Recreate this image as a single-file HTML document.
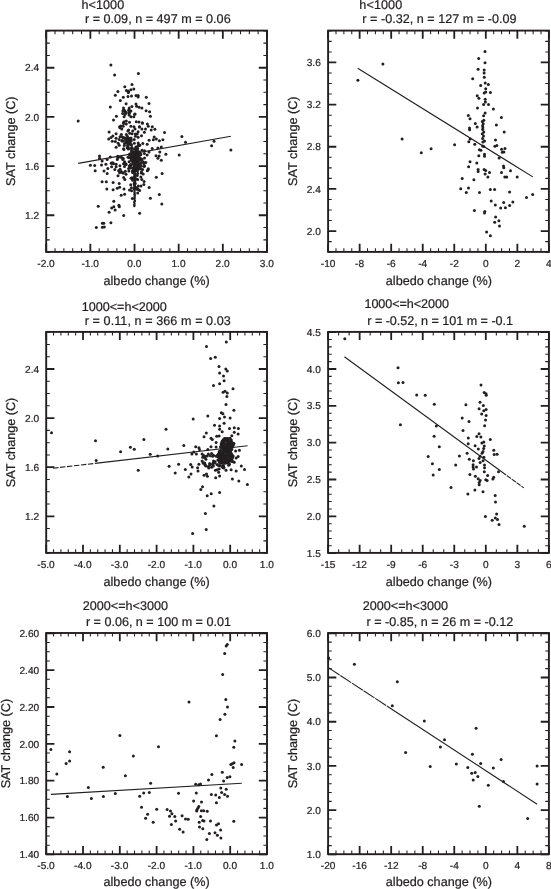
<!DOCTYPE html>
<html lang="en">
<head>
<meta charset="utf-8">
<title>SAT change vs albedo change</title>
<style>html,body{margin:0;padding:0;background:#fff}svg{display:block}text{stroke:#231f20;stroke-width:.22px}</style>
</head>
<body>
<svg width="551" height="889" viewBox="0 0 551 889" font-family="'Liberation Sans', Arial, Helvetica, sans-serif" text-rendering="geometricPrecision">
<rect width="551" height="889" fill="#ffffff"/>
<g>
<path d="M55.03 251.90v-3.60M55.03 30.60v3.60M63.86 251.90v-3.60M63.86 30.60v3.60M72.70 251.90v-3.60M72.70 30.60v3.60M81.53 251.90v-3.60M81.53 30.60v3.60M99.19 251.90v-3.60M99.19 30.60v3.60M108.02 251.90v-3.60M108.02 30.60v3.60M116.86 251.90v-3.60M116.86 30.60v3.60M125.69 251.90v-3.60M125.69 30.60v3.60M143.35 251.90v-3.60M143.35 30.60v3.60M152.18 251.90v-3.60M152.18 30.60v3.60M161.02 251.90v-3.60M161.02 30.60v3.60M169.85 251.90v-3.60M169.85 30.60v3.60M187.51 251.90v-3.60M187.51 30.60v3.60M196.34 251.90v-3.60M196.34 30.60v3.60M205.18 251.90v-3.60M205.18 30.60v3.60M214.01 251.90v-3.60M214.01 30.60v3.60M231.67 251.90v-3.60M231.67 30.60v3.60M240.50 251.90v-3.60M240.50 30.60v3.60M249.34 251.90v-3.60M249.34 30.60v3.60M258.17 251.90v-3.60M258.17 30.60v3.60M46.20 252.15h3.60M267.00 252.15h-3.60M46.20 239.86h3.60M267.00 239.86h-3.60M46.20 227.56h3.60M267.00 227.56h-3.60M46.20 202.97h3.60M267.00 202.97h-3.60M46.20 190.68h3.60M267.00 190.68h-3.60M46.20 178.38h3.60M267.00 178.38h-3.60M46.20 153.79h3.60M267.00 153.79h-3.60M46.20 141.50h3.60M267.00 141.50h-3.60M46.20 129.21h3.60M267.00 129.21h-3.60M46.20 104.62h3.60M267.00 104.62h-3.60M46.20 92.32h3.60M267.00 92.32h-3.60M46.20 80.03h3.60M267.00 80.03h-3.60M46.20 55.44h3.60M267.00 55.44h-3.60M46.20 43.14h3.60M267.00 43.14h-3.60M46.20 30.85h3.60M267.00 30.85h-3.60" stroke="#231f20" stroke-width="1.05" fill="none"/>
<path d="M46.20 251.90v-8.20M46.20 30.60v8.20M90.36 251.90v-8.20M90.36 30.60v8.20M134.52 251.90v-8.20M134.52 30.60v8.20M178.68 251.90v-8.20M178.68 30.60v8.20M222.84 251.90v-8.20M222.84 30.60v8.20M267.00 251.90v-8.20M267.00 30.60v8.20M46.20 215.27h8.20M267.00 215.27h-8.20M46.20 166.09h8.20M267.00 166.09h-8.20M46.20 116.91h8.20M267.00 116.91h-8.20M46.20 67.73h8.20M267.00 67.73h-8.20" stroke="#231f20" stroke-width="1.80" fill="none"/>
<line x1="78.2" y1="163.4" x2="230.9" y2="136.2" stroke="#231f20" stroke-width="1.10"/>
<g fill="#231f20"><circle cx="110.9" cy="64.9" r="1.50"/><circle cx="114.6" cy="75.0" r="1.50"/><circle cx="124.8" cy="86.8" r="1.50"/><circle cx="117.9" cy="91.5" r="1.50"/><circle cx="126.4" cy="90.5" r="1.50"/><circle cx="128.6" cy="92.0" r="1.50"/><circle cx="115.3" cy="95.2" r="1.50"/><circle cx="123.3" cy="97.3" r="1.50"/><circle cx="128.0" cy="96.5" r="1.50"/><circle cx="120.3" cy="100.4" r="1.50"/><circle cx="126.1" cy="103.7" r="1.50"/><circle cx="110.3" cy="107.0" r="1.50"/><circle cx="123.5" cy="107.9" r="1.50"/><circle cx="129.2" cy="107.9" r="1.50"/><circle cx="122.9" cy="111.1" r="1.50"/><circle cx="126.1" cy="113.0" r="1.50"/><circle cx="138.4" cy="73.6" r="1.50"/><circle cx="132.0" cy="84.4" r="1.50"/><circle cx="133.8" cy="89.1" r="1.50"/><circle cx="130.9" cy="89.8" r="1.50"/><circle cx="128.3" cy="91.0" r="1.50"/><circle cx="128.3" cy="92.6" r="1.50"/><circle cx="131.5" cy="96.1" r="1.50"/><circle cx="136.0" cy="95.6" r="1.50"/><circle cx="138.1" cy="95.6" r="1.50"/><circle cx="138.1" cy="97.1" r="1.50"/><circle cx="146.3" cy="97.2" r="1.50"/><circle cx="149.0" cy="103.4" r="1.50"/><circle cx="136.0" cy="104.1" r="1.50"/><circle cx="136.6" cy="106.2" r="1.50"/><circle cx="139.1" cy="107.3" r="1.50"/><circle cx="141.9" cy="107.9" r="1.50"/><circle cx="131.9" cy="106.6" r="1.50"/><circle cx="146.1" cy="110.8" r="1.50"/><circle cx="149.6" cy="111.7" r="1.50"/><circle cx="124.5" cy="110.4" r="1.50"/><circle cx="125.8" cy="112.3" r="1.50"/><circle cx="129.0" cy="109.8" r="1.50"/><circle cx="130.9" cy="111.1" r="1.50"/><circle cx="129.0" cy="113.0" r="1.50"/><circle cx="134.7" cy="114.2" r="1.50"/><circle cx="150.4" cy="116.3" r="1.50"/><circle cx="142.5" cy="123.3" r="1.50"/><circle cx="147.4" cy="123.9" r="1.50"/><circle cx="148.3" cy="126.2" r="1.50"/><circle cx="152.3" cy="126.8" r="1.50"/><circle cx="141.9" cy="129.0" r="1.50"/><circle cx="145.5" cy="129.0" r="1.50"/><circle cx="151.2" cy="130.0" r="1.50"/><circle cx="154.9" cy="129.3" r="1.50"/><circle cx="144.4" cy="132.2" r="1.50"/><circle cx="164.5" cy="132.6" r="1.50"/><circle cx="141.5" cy="135.7" r="1.50"/><circle cx="181.9" cy="136.5" r="1.50"/><circle cx="154.2" cy="137.0" r="1.50"/><circle cx="149.1" cy="140.2" r="1.50"/><circle cx="153.3" cy="139.8" r="1.50"/><circle cx="156.3" cy="138.9" r="1.50"/><circle cx="159.4" cy="140.7" r="1.50"/><circle cx="162.9" cy="139.8" r="1.50"/><circle cx="185.5" cy="142.3" r="1.50"/><circle cx="142.8" cy="143.6" r="1.50"/><circle cx="147.2" cy="144.2" r="1.50"/><circle cx="214.0" cy="141.2" r="1.50"/><circle cx="211.6" cy="145.7" r="1.50"/><circle cx="230.9" cy="150.1" r="1.50"/><circle cx="109.1" cy="131.9" r="1.50"/><circle cx="116.1" cy="133.8" r="1.50"/><circle cx="112.9" cy="136.1" r="1.50"/><circle cx="111.0" cy="137.6" r="1.50"/><circle cx="108.7" cy="139.1" r="1.50"/><circle cx="116.1" cy="138.3" r="1.50"/><circle cx="112.3" cy="141.2" r="1.50"/><circle cx="115.4" cy="141.4" r="1.50"/><circle cx="119.2" cy="139.5" r="1.50"/><circle cx="119.2" cy="145.2" r="1.50"/><circle cx="116.1" cy="147.2" r="1.50"/><circle cx="99.5" cy="156.0" r="1.50"/><circle cx="99.5" cy="158.2" r="1.50"/><circle cx="110.3" cy="157.1" r="1.50"/><circle cx="107.2" cy="159.5" r="1.50"/><circle cx="102.1" cy="160.9" r="1.50"/><circle cx="117.3" cy="159.5" r="1.50"/><circle cx="90.4" cy="165.3" r="1.50"/><circle cx="94.7" cy="165.6" r="1.50"/><circle cx="101.5" cy="164.9" r="1.50"/><circle cx="105.9" cy="164.3" r="1.50"/><circle cx="113.5" cy="163.7" r="1.50"/><circle cx="116.1" cy="164.3" r="1.50"/><circle cx="111.6" cy="166.8" r="1.50"/><circle cx="116.1" cy="166.8" r="1.50"/><circle cx="107.8" cy="168.5" r="1.50"/><circle cx="114.8" cy="169.6" r="1.50"/><circle cx="95.2" cy="170.7" r="1.50"/><circle cx="104.0" cy="170.9" r="1.50"/><circle cx="107.2" cy="173.5" r="1.50"/><circle cx="118.6" cy="170.7" r="1.50"/><circle cx="118.0" cy="175.7" r="1.50"/><circle cx="102.1" cy="181.8" r="1.50"/><circle cx="106.3" cy="181.8" r="1.50"/><circle cx="113.1" cy="182.5" r="1.50"/><circle cx="119.2" cy="183.4" r="1.50"/><circle cx="106.8" cy="189.1" r="1.50"/><circle cx="113.1" cy="189.7" r="1.50"/><circle cx="117.3" cy="188.2" r="1.50"/><circle cx="119.6" cy="187.2" r="1.50"/><circle cx="124.0" cy="188.9" r="1.50"/><circle cx="121.2" cy="195.2" r="1.50"/><circle cx="124.6" cy="194.2" r="1.50"/><circle cx="113.8" cy="201.3" r="1.50"/><circle cx="98.2" cy="206.2" r="1.50"/><circle cx="118.9" cy="205.2" r="1.50"/><circle cx="119.3" cy="206.7" r="1.50"/><circle cx="113.8" cy="206.7" r="1.50"/><circle cx="111.7" cy="207.9" r="1.50"/><circle cx="115.1" cy="209.9" r="1.50"/><circle cx="109.1" cy="212.3" r="1.50"/><circle cx="123.7" cy="215.6" r="1.50"/><circle cx="110.9" cy="222.8" r="1.50"/><circle cx="102.4" cy="223.2" r="1.50"/><circle cx="103.7" cy="223.2" r="1.50"/><circle cx="96.3" cy="227.6" r="1.50"/><circle cx="102.4" cy="227.3" r="1.50"/><circle cx="104.3" cy="227.0" r="1.50"/><circle cx="132.3" cy="198.4" r="1.50"/><circle cx="139.6" cy="213.3" r="1.50"/><circle cx="162.1" cy="173.5" r="1.50"/><circle cx="156.3" cy="177.3" r="1.50"/><circle cx="148.1" cy="169.8" r="1.50"/><circle cx="143.2" cy="173.9" r="1.50"/><circle cx="140.9" cy="177.1" r="1.50"/><circle cx="144.1" cy="181.5" r="1.50"/><circle cx="149.1" cy="187.6" r="1.50"/><circle cx="139.6" cy="190.4" r="1.50"/><circle cx="137.7" cy="193.0" r="1.50"/><circle cx="159.3" cy="194.5" r="1.50"/><circle cx="150.4" cy="198.3" r="1.50"/><circle cx="161.8" cy="203.9" r="1.50"/><circle cx="130.7" cy="184.7" r="1.50"/><circle cx="135.2" cy="183.4" r="1.50"/><circle cx="132.0" cy="177.7" r="1.50"/><circle cx="132.6" cy="180.2" r="1.50"/><circle cx="137.7" cy="179.6" r="1.50"/><circle cx="135.8" cy="187.6" r="1.50"/><circle cx="139.4" cy="126.9" r="1.50"/><circle cx="139.8" cy="145.3" r="1.50"/><circle cx="161.3" cy="146.9" r="1.50"/><circle cx="157.9" cy="147.9" r="1.50"/><circle cx="152.2" cy="148.5" r="1.50"/><circle cx="149.0" cy="152.1" r="1.50"/><circle cx="144.5" cy="150.8" r="1.50"/><circle cx="159.8" cy="152.1" r="1.50"/><circle cx="165.9" cy="154.2" r="1.50"/><circle cx="179.2" cy="154.9" r="1.50"/><circle cx="147.1" cy="155.1" r="1.50"/><circle cx="156.0" cy="155.7" r="1.50"/><circle cx="159.1" cy="155.9" r="1.50"/><circle cx="157.9" cy="158.3" r="1.50"/><circle cx="161.3" cy="160.3" r="1.50"/><circle cx="144.5" cy="158.0" r="1.50"/><circle cx="145.8" cy="162.5" r="1.50"/><circle cx="144.5" cy="165.7" r="1.50"/><circle cx="148.3" cy="168.8" r="1.50"/><circle cx="147.3" cy="170.7" r="1.50"/><circle cx="78.2" cy="121.0" r="1.50"/><circle cx="116.4" cy="116.3" r="1.50"/><circle cx="113.5" cy="120.1" r="1.50"/><circle cx="119.6" cy="126.8" r="1.50"/><circle cx="123.6" cy="110.0" r="1.50"/><circle cx="125.0" cy="111.3" r="1.50"/><circle cx="128.6" cy="110.4" r="1.50"/><circle cx="129.5" cy="112.7" r="1.50"/><circle cx="122.7" cy="113.6" r="1.50"/><circle cx="125.0" cy="114.5" r="1.50"/><circle cx="135.0" cy="114.1" r="1.50"/><circle cx="129.1" cy="115.0" r="1.50"/><circle cx="124.1" cy="116.8" r="1.50"/><circle cx="130.9" cy="116.8" r="1.50"/><circle cx="133.8" cy="116.8" r="1.50"/><circle cx="126.3" cy="120.9" r="1.50"/><circle cx="124.1" cy="121.8" r="1.50"/><circle cx="129.5" cy="122.2" r="1.50"/><circle cx="136.3" cy="121.8" r="1.50"/><circle cx="139.0" cy="122.1" r="1.50"/><circle cx="142.2" cy="122.7" r="1.50"/><circle cx="123.6" cy="123.6" r="1.50"/><circle cx="126.3" cy="124.0" r="1.50"/><circle cx="120.9" cy="125.9" r="1.50"/><circle cx="123.2" cy="126.3" r="1.50"/><circle cx="130.9" cy="126.3" r="1.50"/><circle cx="134.0" cy="126.8" r="1.50"/><circle cx="139.5" cy="126.8" r="1.50"/><circle cx="120.0" cy="127.7" r="1.50"/><circle cx="121.8" cy="129.0" r="1.50"/><circle cx="135.0" cy="129.0" r="1.50"/><circle cx="128.6" cy="129.9" r="1.50"/><circle cx="132.7" cy="130.9" r="1.50"/><circle cx="138.1" cy="131.8" r="1.50"/><circle cx="121.3" cy="134.5" r="1.50"/><circle cx="126.3" cy="134.5" r="1.50"/><circle cx="137.2" cy="134.0" r="1.50"/><circle cx="120.0" cy="136.8" r="1.50"/><circle cx="135.4" cy="136.3" r="1.50"/><circle cx="138.1" cy="137.2" r="1.50"/><circle cx="130.8" cy="144.5" r="1.50"/><circle cx="123.3" cy="137.7" r="1.50"/><circle cx="125.2" cy="137.9" r="1.50"/><circle cx="130.4" cy="144.3" r="1.50"/><circle cx="129.8" cy="142.9" r="1.50"/><circle cx="122.3" cy="137.1" r="1.50"/><circle cx="123.9" cy="149.5" r="1.50"/><circle cx="127.5" cy="136.5" r="1.50"/><circle cx="128.6" cy="140.5" r="1.50"/><circle cx="134.1" cy="152.5" r="1.50"/><circle cx="128.3" cy="149.0" r="1.50"/><circle cx="127.9" cy="138.5" r="1.50"/><circle cx="128.9" cy="148.6" r="1.50"/><circle cx="128.1" cy="146.9" r="1.50"/><circle cx="131.5" cy="148.3" r="1.50"/><circle cx="124.3" cy="145.5" r="1.50"/><circle cx="129.7" cy="154.1" r="1.50"/><circle cx="122.1" cy="140.5" r="1.50"/><circle cx="125.9" cy="139.5" r="1.50"/><circle cx="131.5" cy="145.1" r="1.50"/><circle cx="131.1" cy="153.8" r="1.50"/><circle cx="127.6" cy="145.4" r="1.50"/><circle cx="135.8" cy="149.7" r="1.50"/><circle cx="135.5" cy="148.8" r="1.50"/><circle cx="136.6" cy="147.2" r="1.50"/><circle cx="124.6" cy="143.5" r="1.50"/><circle cx="123.9" cy="137.7" r="1.50"/><circle cx="131.3" cy="140.1" r="1.50"/><circle cx="126.6" cy="141.1" r="1.50"/><circle cx="135.8" cy="152.0" r="1.50"/><circle cx="134.3" cy="143.3" r="1.50"/><circle cx="132.3" cy="152.9" r="1.50"/><circle cx="134.2" cy="139.4" r="1.50"/><circle cx="127.8" cy="140.7" r="1.50"/><circle cx="123.5" cy="141.0" r="1.50"/><circle cx="130.9" cy="141.3" r="1.50"/><circle cx="121.9" cy="140.9" r="1.50"/><circle cx="127.2" cy="147.8" r="1.50"/><circle cx="137.3" cy="149.2" r="1.50"/><circle cx="135.9" cy="146.9" r="1.50"/><circle cx="127.7" cy="143.8" r="1.50"/><circle cx="131.9" cy="147.4" r="1.50"/><circle cx="128.7" cy="141.9" r="1.50"/><circle cx="127.7" cy="137.8" r="1.50"/><circle cx="125.9" cy="139.0" r="1.50"/><circle cx="131.6" cy="150.2" r="1.50"/><circle cx="126.0" cy="142.6" r="1.50"/><circle cx="132.1" cy="133.8" r="1.50"/><circle cx="132.8" cy="161.4" r="1.50"/><circle cx="137.4" cy="161.3" r="1.50"/><circle cx="134.9" cy="163.7" r="1.50"/><circle cx="137.0" cy="157.1" r="1.50"/><circle cx="143.5" cy="162.0" r="1.50"/><circle cx="134.5" cy="159.4" r="1.50"/><circle cx="135.5" cy="159.6" r="1.50"/><circle cx="128.0" cy="157.3" r="1.50"/><circle cx="139.2" cy="153.5" r="1.50"/><circle cx="136.0" cy="165.3" r="1.50"/><circle cx="138.8" cy="168.3" r="1.50"/><circle cx="131.1" cy="158.0" r="1.50"/><circle cx="135.2" cy="163.5" r="1.50"/><circle cx="139.5" cy="145.0" r="1.50"/><circle cx="139.5" cy="151.9" r="1.50"/><circle cx="138.2" cy="151.6" r="1.50"/><circle cx="136.7" cy="166.7" r="1.50"/><circle cx="135.8" cy="161.1" r="1.50"/><circle cx="138.6" cy="160.8" r="1.50"/><circle cx="135.9" cy="168.6" r="1.50"/><circle cx="139.3" cy="158.4" r="1.50"/><circle cx="144.4" cy="153.6" r="1.50"/><circle cx="138.9" cy="158.5" r="1.50"/><circle cx="136.6" cy="163.9" r="1.50"/><circle cx="136.9" cy="163.6" r="1.50"/><circle cx="131.6" cy="151.5" r="1.50"/><circle cx="138.0" cy="154.6" r="1.50"/><circle cx="133.1" cy="151.8" r="1.50"/><circle cx="140.0" cy="164.2" r="1.50"/><circle cx="140.6" cy="154.7" r="1.50"/><circle cx="136.2" cy="153.6" r="1.50"/><circle cx="138.5" cy="168.9" r="1.50"/><circle cx="133.5" cy="168.7" r="1.50"/><circle cx="139.2" cy="159.0" r="1.50"/><circle cx="130.3" cy="167.9" r="1.50"/><circle cx="135.9" cy="156.6" r="1.50"/><circle cx="137.4" cy="162.3" r="1.50"/><circle cx="140.7" cy="154.3" r="1.50"/><circle cx="139.6" cy="168.3" r="1.50"/><circle cx="140.6" cy="159.0" r="1.50"/><circle cx="134.0" cy="165.7" r="1.50"/><circle cx="136.5" cy="160.7" r="1.50"/><circle cx="140.5" cy="158.5" r="1.50"/><circle cx="129.3" cy="157.8" r="1.50"/><circle cx="130.6" cy="164.6" r="1.50"/><circle cx="137.2" cy="156.6" r="1.50"/><circle cx="136.2" cy="164.7" r="1.50"/><circle cx="136.4" cy="167.4" r="1.50"/><circle cx="136.0" cy="165.8" r="1.50"/><circle cx="140.7" cy="169.0" r="1.50"/><circle cx="134.2" cy="164.9" r="1.50"/><circle cx="130.6" cy="153.9" r="1.50"/><circle cx="130.3" cy="166.0" r="1.50"/><circle cx="132.5" cy="159.9" r="1.50"/><circle cx="135.6" cy="159.8" r="1.50"/><circle cx="134.4" cy="161.3" r="1.50"/><circle cx="141.6" cy="160.2" r="1.50"/><circle cx="137.8" cy="165.6" r="1.50"/><circle cx="135.6" cy="152.9" r="1.50"/><circle cx="134.5" cy="166.0" r="1.50"/><circle cx="131.3" cy="156.7" r="1.50"/><circle cx="139.2" cy="164.4" r="1.50"/><circle cx="136.2" cy="164.5" r="1.50"/><circle cx="136.7" cy="153.4" r="1.50"/><circle cx="131.5" cy="156.4" r="1.50"/><circle cx="139.0" cy="156.8" r="1.50"/><circle cx="133.5" cy="155.7" r="1.50"/><circle cx="131.6" cy="159.3" r="1.50"/><circle cx="132.7" cy="162.0" r="1.50"/><circle cx="129.1" cy="161.8" r="1.50"/><circle cx="134.3" cy="149.1" r="1.50"/><circle cx="138.4" cy="158.5" r="1.50"/><circle cx="129.5" cy="155.1" r="1.50"/><circle cx="137.1" cy="157.4" r="1.50"/><circle cx="138.5" cy="164.2" r="1.50"/><circle cx="138.2" cy="161.8" r="1.50"/><circle cx="140.2" cy="163.7" r="1.50"/><circle cx="137.6" cy="148.3" r="1.50"/><circle cx="138.9" cy="167.3" r="1.50"/><circle cx="135.3" cy="157.4" r="1.50"/><circle cx="142.0" cy="150.2" r="1.50"/><circle cx="137.6" cy="173.6" r="1.50"/><circle cx="133.4" cy="163.9" r="1.50"/><circle cx="141.9" cy="159.3" r="1.50"/><circle cx="137.9" cy="165.1" r="1.50"/><circle cx="133.5" cy="159.5" r="1.50"/><circle cx="137.1" cy="164.6" r="1.50"/><circle cx="136.1" cy="158.9" r="1.50"/><circle cx="133.2" cy="158.0" r="1.50"/><circle cx="138.9" cy="160.6" r="1.50"/><circle cx="133.6" cy="155.3" r="1.50"/><circle cx="144.2" cy="166.4" r="1.50"/><circle cx="138.1" cy="145.5" r="1.50"/><circle cx="138.1" cy="162.7" r="1.50"/><circle cx="141.3" cy="162.4" r="1.50"/><circle cx="134.9" cy="159.3" r="1.50"/><circle cx="134.9" cy="187.5" r="1.50"/><circle cx="134.6" cy="182.9" r="1.50"/><circle cx="134.8" cy="187.8" r="1.50"/><circle cx="134.6" cy="171.3" r="1.50"/><circle cx="134.5" cy="153.0" r="1.50"/><circle cx="134.5" cy="176.6" r="1.50"/><circle cx="134.7" cy="188.8" r="1.50"/><circle cx="134.6" cy="174.1" r="1.50"/><circle cx="134.5" cy="184.7" r="1.50"/><circle cx="134.9" cy="153.2" r="1.50"/><circle cx="134.3" cy="161.8" r="1.50"/><circle cx="134.8" cy="170.5" r="1.50"/><circle cx="134.5" cy="154.8" r="1.50"/><circle cx="134.6" cy="169.4" r="1.50"/><circle cx="134.8" cy="155.7" r="1.50"/><circle cx="134.7" cy="152.8" r="1.50"/><circle cx="134.9" cy="160.5" r="1.50"/><circle cx="134.5" cy="180.0" r="1.50"/><circle cx="135.0" cy="156.2" r="1.50"/><circle cx="134.9" cy="162.1" r="1.50"/><circle cx="134.6" cy="152.2" r="1.50"/><circle cx="134.4" cy="178.7" r="1.50"/><circle cx="134.5" cy="167.2" r="1.50"/><circle cx="135.1" cy="188.6" r="1.50"/><circle cx="135.0" cy="165.4" r="1.50"/><circle cx="117.7" cy="157.8" r="1.50"/><circle cx="124.5" cy="166.6" r="1.50"/><circle cx="123.4" cy="122.8" r="1.50"/><circle cx="123.7" cy="177.5" r="1.50"/><circle cx="128.3" cy="139.2" r="1.50"/><circle cx="125.7" cy="163.8" r="1.50"/><circle cx="134.5" cy="159.3" r="1.50"/><circle cx="141.4" cy="166.2" r="1.50"/><circle cx="130.9" cy="164.8" r="1.50"/><circle cx="142.6" cy="169.6" r="1.50"/><circle cx="138.2" cy="142.9" r="1.50"/><circle cx="130.0" cy="166.5" r="1.50"/><circle cx="128.9" cy="170.9" r="1.50"/><circle cx="135.2" cy="168.8" r="1.50"/><circle cx="129.5" cy="190.1" r="1.50"/><circle cx="139.7" cy="154.2" r="1.50"/><circle cx="131.6" cy="190.7" r="1.50"/><circle cx="128.6" cy="168.4" r="1.50"/><circle cx="137.9" cy="157.1" r="1.50"/><circle cx="122.8" cy="159.4" r="1.50"/><circle cx="133.5" cy="171.7" r="1.50"/><circle cx="136.5" cy="157.3" r="1.50"/><circle cx="137.0" cy="164.0" r="1.50"/><circle cx="132.4" cy="157.7" r="1.50"/><circle cx="129.3" cy="165.9" r="1.50"/><circle cx="123.6" cy="148.8" r="1.50"/><circle cx="131.0" cy="138.0" r="1.50"/><circle cx="127.9" cy="130.9" r="1.50"/><circle cx="126.2" cy="164.4" r="1.50"/><circle cx="135.0" cy="156.3" r="1.50"/><circle cx="129.4" cy="138.6" r="1.50"/><circle cx="143.8" cy="163.7" r="1.50"/><circle cx="138.7" cy="145.5" r="1.50"/><circle cx="129.7" cy="133.3" r="1.50"/><circle cx="136.5" cy="169.2" r="1.50"/><circle cx="117.7" cy="156.3" r="1.50"/><circle cx="135.4" cy="134.1" r="1.50"/><circle cx="118.2" cy="143.2" r="1.50"/><circle cx="126.6" cy="138.8" r="1.50"/><circle cx="131.2" cy="160.2" r="1.50"/><circle cx="135.4" cy="166.1" r="1.50"/><circle cx="141.5" cy="172.1" r="1.50"/><circle cx="121.2" cy="171.4" r="1.50"/><circle cx="122.5" cy="172.7" r="1.50"/><circle cx="119.8" cy="157.1" r="1.50"/><circle cx="126.0" cy="174.2" r="1.50"/><circle cx="120.1" cy="169.3" r="1.50"/><circle cx="123.2" cy="158.5" r="1.50"/><circle cx="124.7" cy="162.8" r="1.50"/><circle cx="111.5" cy="163.1" r="1.50"/><circle cx="124.6" cy="161.7" r="1.50"/><circle cx="124.8" cy="179.4" r="1.50"/><circle cx="119.9" cy="165.8" r="1.50"/><circle cx="119.6" cy="172.7" r="1.50"/><circle cx="125.3" cy="171.2" r="1.50"/><circle cx="122.9" cy="158.8" r="1.50"/><circle cx="112.9" cy="162.8" r="1.50"/><circle cx="124.9" cy="164.0" r="1.50"/><circle cx="121.4" cy="157.3" r="1.50"/><circle cx="111.2" cy="163.2" r="1.50"/><circle cx="123.4" cy="172.9" r="1.50"/><circle cx="123.5" cy="163.7" r="1.50"/><circle cx="131.0" cy="178.3" r="1.50"/><circle cx="135.5" cy="170.6" r="1.50"/><circle cx="138.4" cy="189.5" r="1.50"/><circle cx="134.1" cy="188.6" r="1.50"/><circle cx="141.0" cy="186.0" r="1.50"/><circle cx="136.5" cy="189.3" r="1.50"/><circle cx="132.6" cy="172.6" r="1.50"/><circle cx="137.1" cy="188.8" r="1.50"/><circle cx="137.5" cy="171.1" r="1.50"/><circle cx="141.8" cy="179.5" r="1.50"/><circle cx="138.3" cy="186.0" r="1.50"/><circle cx="135.3" cy="179.2" r="1.50"/><circle cx="141.3" cy="173.1" r="1.50"/><circle cx="131.4" cy="187.7" r="1.50"/><circle cx="135.0" cy="168.1" r="1.50"/><circle cx="136.1" cy="178.8" r="1.50"/><circle cx="132.4" cy="171.1" r="1.50"/><circle cx="137.2" cy="175.6" r="1.50"/><circle cx="132.5" cy="168.0" r="1.50"/><circle cx="143.9" cy="184.5" r="1.50"/><circle cx="137.2" cy="188.4" r="1.50"/><circle cx="134.1" cy="183.7" r="1.50"/></g>
<g fill="#231f20"><circle cx="134.36" cy="206.1" r="1.22"/><circle cx="134.37" cy="204.8" r="1.26"/><circle cx="134.57" cy="203.5" r="1.06"/><circle cx="134.15" cy="202.2" r="1.15"/><circle cx="134.87" cy="200.9" r="1.25"/><circle cx="134.50" cy="199.6" r="1.07"/><circle cx="134.45" cy="198.3" r="1.17"/><circle cx="134.63" cy="197.0" r="1.18"/><circle cx="134.74" cy="195.7" r="1.11"/><circle cx="134.61" cy="194.4" r="1.25"/><circle cx="134.61" cy="193.1" r="1.23"/><circle cx="134.48" cy="191.8" r="1.08"/><circle cx="134.52" cy="190.5" r="1.05"/><circle cx="134.53" cy="189.2" r="1.24"/><circle cx="134.64" cy="187.9" r="1.27"/><circle cx="134.73" cy="186.6" r="1.24"/><circle cx="134.48" cy="185.3" r="1.17"/><circle cx="135.09" cy="184.0" r="1.20"/><circle cx="134.73" cy="182.7" r="1.20"/><circle cx="135.06" cy="181.4" r="1.26"/><circle cx="134.73" cy="180.1" r="1.13"/><circle cx="134.50" cy="178.8" r="1.09"/><circle cx="134.64" cy="177.5" r="1.12"/><circle cx="134.66" cy="176.2" r="1.18"/><circle cx="134.90" cy="174.9" r="1.12"/><circle cx="134.61" cy="173.6" r="1.12"/><circle cx="134.70" cy="172.3" r="1.12"/><circle cx="134.39" cy="171.0" r="1.16"/><circle cx="134.58" cy="169.7" r="1.26"/><circle cx="134.53" cy="168.4" r="1.06"/><circle cx="134.60" cy="167.1" r="1.05"/><circle cx="134.21" cy="165.8" r="1.22"/></g>
<rect x="46.20" y="30.60" width="220.80" height="221.30" fill="none" stroke="#231f20" stroke-width="1.90"/>
<g font-size="10.15" fill="#231f20"><text x="46.0" y="267.1" text-anchor="middle">-2.0</text><text x="90.2" y="267.1" text-anchor="middle">-1.0</text><text x="134.3" y="267.1" text-anchor="middle">0.0</text><text x="178.5" y="267.1" text-anchor="middle">1.0</text><text x="222.6" y="267.1" text-anchor="middle">2.0</text><text x="266.8" y="267.1" text-anchor="middle">3.0</text><text x="39.2" y="218.9" text-anchor="end">1.2</text><text x="39.2" y="169.7" text-anchor="end">1.6</text><text x="39.2" y="120.5" text-anchor="end">2.0</text><text x="39.2" y="71.3" text-anchor="end">2.4</text></g>
<text x="156.6" y="284.5" text-anchor="middle" font-size="12.65" fill="#231f20">albedo change (%)</text>
<text transform="translate(15.4 141.2) rotate(-90)" text-anchor="middle" font-size="12.65" fill="#231f20">SAT change (C)</text>
<text x="81.48" y="9.1" font-size="12.60" fill="#231f20" textLength="42.72" lengthAdjust="spacing">h&lt;1000</text>
<text x="84.96" y="23.0" font-size="12.60" fill="#231f20" textLength="145.69" lengthAdjust="spacing">r = 0.09, n = 497 m = 0.06</text>
</g>
<g>
<path d="M335.99 251.90v-3.60M335.99 30.60v3.60M343.87 251.90v-3.60M343.87 30.60v3.60M351.76 251.90v-3.60M351.76 30.60v3.60M367.53 251.90v-3.60M367.53 30.60v3.60M375.41 251.90v-3.60M375.41 30.60v3.60M383.30 251.90v-3.60M383.30 30.60v3.60M399.07 251.90v-3.60M399.07 30.60v3.60M406.96 251.90v-3.60M406.96 30.60v3.60M414.84 251.90v-3.60M414.84 30.60v3.60M430.61 251.90v-3.60M430.61 30.60v3.60M438.50 251.90v-3.60M438.50 30.60v3.60M446.39 251.90v-3.60M446.39 30.60v3.60M462.16 251.90v-3.60M462.16 30.60v3.60M470.04 251.90v-3.60M470.04 30.60v3.60M477.93 251.90v-3.60M477.93 30.60v3.60M493.70 251.90v-3.60M493.70 30.60v3.60M501.59 251.90v-3.60M501.59 30.60v3.60M509.47 251.90v-3.60M509.47 30.60v3.60M525.24 251.90v-3.60M525.24 30.60v3.60M533.13 251.90v-3.60M533.13 30.60v3.60M541.01 251.90v-3.60M541.01 30.60v3.60M328.10 252.15h3.60M548.90 252.15h-3.60M328.10 241.61h3.60M548.90 241.61h-3.60M328.10 220.54h3.60M548.90 220.54h-3.60M328.10 210.00h3.60M548.90 210.00h-3.60M328.10 199.46h3.60M548.90 199.46h-3.60M328.10 178.38h3.60M548.90 178.38h-3.60M328.10 167.85h3.60M548.90 167.85h-3.60M328.10 157.31h3.60M548.90 157.31h-3.60M328.10 136.23h3.60M548.90 136.23h-3.60M328.10 125.69h3.60M548.90 125.69h-3.60M328.10 115.15h3.60M548.90 115.15h-3.60M328.10 94.08h3.60M548.90 94.08h-3.60M328.10 83.54h3.60M548.90 83.54h-3.60M328.10 73.00h3.60M548.90 73.00h-3.60M328.10 51.93h3.60M548.90 51.93h-3.60M328.10 41.39h3.60M548.90 41.39h-3.60M328.10 30.85h3.60M548.90 30.85h-3.60" stroke="#231f20" stroke-width="1.05" fill="none"/>
<path d="M328.10 251.90v-8.20M328.10 30.60v8.20M359.64 251.90v-8.20M359.64 30.60v8.20M391.19 251.90v-8.20M391.19 30.60v8.20M422.73 251.90v-8.20M422.73 30.60v8.20M454.27 251.90v-8.20M454.27 30.60v8.20M485.81 251.90v-8.20M485.81 30.60v8.20M517.36 251.90v-8.20M517.36 30.60v8.20M548.90 251.90v-8.20M548.90 30.60v8.20M328.10 231.07h8.20M548.90 231.07h-8.20M328.10 188.92h8.20M548.90 188.92h-8.20M328.10 146.77h8.20M548.90 146.77h-8.20M328.10 104.62h8.20M548.90 104.62h-8.20M328.10 62.46h8.20M548.90 62.46h-8.20" stroke="#231f20" stroke-width="1.80" fill="none"/>
<line x1="357.7" y1="68.3" x2="532.8" y2="176.9" stroke="#231f20" stroke-width="1.10"/>
<g fill="#231f20"><circle cx="382.9" cy="64.0" r="1.50"/><circle cx="357.9" cy="80.3" r="1.50"/><circle cx="402.1" cy="139.1" r="1.50"/><circle cx="421.3" cy="152.8" r="1.50"/><circle cx="431.1" cy="148.7" r="1.50"/><circle cx="485.0" cy="51.6" r="1.50"/><circle cx="478.7" cy="58.5" r="1.50"/><circle cx="485.0" cy="62.8" r="1.50"/><circle cx="478.1" cy="69.3" r="1.50"/><circle cx="484.2" cy="70.1" r="1.50"/><circle cx="484.1" cy="73.1" r="1.50"/><circle cx="484.3" cy="77.3" r="1.50"/><circle cx="472.7" cy="78.8" r="1.50"/><circle cx="485.2" cy="83.1" r="1.50"/><circle cx="488.3" cy="84.6" r="1.50"/><circle cx="480.7" cy="85.5" r="1.50"/><circle cx="485.7" cy="88.7" r="1.50"/><circle cx="485.7" cy="91.9" r="1.50"/><circle cx="484.2" cy="93.1" r="1.50"/><circle cx="490.4" cy="92.6" r="1.50"/><circle cx="477.2" cy="95.7" r="1.50"/><circle cx="478.9" cy="98.2" r="1.50"/><circle cx="485.2" cy="99.2" r="1.50"/><circle cx="485.4" cy="102.1" r="1.50"/><circle cx="483.6" cy="104.4" r="1.50"/><circle cx="488.5" cy="104.5" r="1.50"/><circle cx="477.5" cy="107.9" r="1.50"/><circle cx="493.4" cy="109.1" r="1.50"/><circle cx="485.1" cy="113.0" r="1.50"/><circle cx="483.6" cy="115.7" r="1.50"/><circle cx="468.3" cy="115.5" r="1.50"/><circle cx="470.0" cy="118.8" r="1.50"/><circle cx="501.4" cy="117.6" r="1.50"/><circle cx="483.8" cy="120.2" r="1.50"/><circle cx="482.3" cy="121.5" r="1.50"/><circle cx="483.2" cy="123.7" r="1.50"/><circle cx="475.3" cy="123.5" r="1.50"/><circle cx="482.6" cy="125.8" r="1.50"/><circle cx="477.1" cy="127.0" r="1.50"/><circle cx="482.9" cy="127.7" r="1.50"/><circle cx="496.4" cy="125.1" r="1.50"/><circle cx="469.5" cy="127.9" r="1.50"/><circle cx="469.6" cy="129.8" r="1.50"/><circle cx="482.7" cy="129.6" r="1.50"/><circle cx="483.8" cy="131.9" r="1.50"/><circle cx="482.3" cy="133.8" r="1.50"/><circle cx="504.2" cy="132.1" r="1.50"/><circle cx="483.5" cy="136.1" r="1.50"/><circle cx="482.6" cy="138.5" r="1.50"/><circle cx="470.1" cy="138.9" r="1.50"/><circle cx="484.5" cy="141.1" r="1.50"/><circle cx="482.9" cy="142.1" r="1.50"/><circle cx="468.8" cy="141.8" r="1.50"/><circle cx="495.5" cy="139.9" r="1.50"/><circle cx="454.6" cy="144.8" r="1.50"/><circle cx="474.8" cy="144.3" r="1.50"/><circle cx="482.6" cy="145.9" r="1.50"/><circle cx="483.8" cy="146.5" r="1.50"/><circle cx="494.9" cy="146.2" r="1.50"/><circle cx="496.9" cy="145.6" r="1.50"/><circle cx="479.4" cy="149.7" r="1.50"/><circle cx="480.9" cy="150.3" r="1.50"/><circle cx="501.6" cy="149.2" r="1.50"/><circle cx="505.0" cy="148.4" r="1.50"/><circle cx="502.3" cy="152.3" r="1.50"/><circle cx="503.9" cy="151.9" r="1.50"/><circle cx="484.5" cy="154.2" r="1.50"/><circle cx="484.5" cy="156.3" r="1.50"/><circle cx="478.8" cy="155.8" r="1.50"/><circle cx="499.1" cy="158.0" r="1.50"/><circle cx="470.0" cy="161.8" r="1.50"/><circle cx="476.8" cy="163.1" r="1.50"/><circle cx="468.6" cy="166.8" r="1.50"/><circle cx="503.5" cy="165.9" r="1.50"/><circle cx="503.8" cy="167.8" r="1.50"/><circle cx="478.1" cy="169.4" r="1.50"/><circle cx="478.1" cy="171.6" r="1.50"/><circle cx="484.1" cy="169.4" r="1.50"/><circle cx="485.7" cy="170.6" r="1.50"/><circle cx="489.5" cy="172.5" r="1.50"/><circle cx="485.1" cy="174.1" r="1.50"/><circle cx="501.5" cy="172.5" r="1.50"/><circle cx="487.9" cy="177.1" r="1.50"/><circle cx="504.8" cy="176.9" r="1.50"/><circle cx="506.7" cy="177.1" r="1.50"/><circle cx="462.2" cy="178.5" r="1.50"/><circle cx="473.9" cy="179.7" r="1.50"/><circle cx="460.7" cy="188.8" r="1.50"/><circle cx="468.5" cy="188.0" r="1.50"/><circle cx="466.3" cy="192.6" r="1.50"/><circle cx="479.5" cy="192.4" r="1.50"/><circle cx="490.3" cy="189.6" r="1.50"/><circle cx="494.6" cy="189.6" r="1.50"/><circle cx="509.6" cy="191.9" r="1.50"/><circle cx="491.2" cy="201.1" r="1.50"/><circle cx="503.7" cy="202.5" r="1.50"/><circle cx="495.3" cy="205.1" r="1.50"/><circle cx="509.6" cy="205.5" r="1.50"/><circle cx="500.7" cy="208.1" r="1.50"/><circle cx="505.4" cy="207.8" r="1.50"/><circle cx="474.4" cy="210.5" r="1.50"/><circle cx="484.8" cy="211.4" r="1.50"/><circle cx="484.5" cy="213.1" r="1.50"/><circle cx="495.6" cy="217.1" r="1.50"/><circle cx="510.5" cy="170.7" r="1.50"/><circle cx="517.2" cy="177.1" r="1.50"/><circle cx="532.7" cy="194.5" r="1.50"/><circle cx="526.5" cy="197.5" r="1.50"/><circle cx="512.8" cy="202.1" r="1.50"/><circle cx="498.9" cy="220.8" r="1.50"/><circle cx="494.7" cy="222.2" r="1.50"/><circle cx="499.5" cy="226.1" r="1.50"/><circle cx="486.6" cy="232.1" r="1.50"/><circle cx="490.4" cy="235.8" r="1.50"/></g>
<rect x="328.10" y="30.60" width="220.80" height="221.30" fill="none" stroke="#231f20" stroke-width="1.90"/>
<g font-size="10.15" fill="#231f20"><text x="328.1" y="267.1" text-anchor="middle">-10</text><text x="359.6" y="267.1" text-anchor="middle">-8</text><text x="391.2" y="267.1" text-anchor="middle">-6</text><text x="422.7" y="267.1" text-anchor="middle">-4</text><text x="454.3" y="267.1" text-anchor="middle">-2</text><text x="485.8" y="267.1" text-anchor="middle">0</text><text x="517.4" y="267.1" text-anchor="middle">2</text><text x="548.9" y="267.1" text-anchor="middle">4</text><text x="320.8" y="234.7" text-anchor="end">2.0</text><text x="320.8" y="192.5" text-anchor="end">2.4</text><text x="320.8" y="150.4" text-anchor="end">2.8</text><text x="320.8" y="108.2" text-anchor="end">3.2</text><text x="320.8" y="66.1" text-anchor="end">3.6</text></g>
<text x="438.9" y="284.5" text-anchor="middle" font-size="12.65" fill="#231f20">albedo change (%)</text>
<text transform="translate(296.8 141.2) rotate(-90)" text-anchor="middle" font-size="12.65" fill="#231f20">SAT change (C)</text>
<text x="359.33" y="9.1" font-size="12.60" fill="#231f20" textLength="42.87" lengthAdjust="spacing">h&lt;1000</text>
<text x="362.36" y="23.0" font-size="12.60" fill="#231f20" textLength="154.23" lengthAdjust="spacing">r = -0.32, n = 127 m = -0.09</text>
</g>
<g>
<path d="M53.56 552.90v-3.60M53.56 331.90v3.60M60.92 552.90v-3.60M60.92 331.90v3.60M68.28 552.90v-3.60M68.28 331.90v3.60M75.64 552.90v-3.60M75.64 331.90v3.60M90.36 552.90v-3.60M90.36 331.90v3.60M97.72 552.90v-3.60M97.72 331.90v3.60M105.08 552.90v-3.60M105.08 331.90v3.60M112.44 552.90v-3.60M112.44 331.90v3.60M127.16 552.90v-3.60M127.16 331.90v3.60M134.52 552.90v-3.60M134.52 331.90v3.60M141.88 552.90v-3.60M141.88 331.90v3.60M149.24 552.90v-3.60M149.24 331.90v3.60M163.96 552.90v-3.60M163.96 331.90v3.60M171.32 552.90v-3.60M171.32 331.90v3.60M178.68 552.90v-3.60M178.68 331.90v3.60M186.04 552.90v-3.60M186.04 331.90v3.60M200.76 552.90v-3.60M200.76 331.90v3.60M208.12 552.90v-3.60M208.12 331.90v3.60M215.48 552.90v-3.60M215.48 331.90v3.60M222.84 552.90v-3.60M222.84 331.90v3.60M237.56 552.90v-3.60M237.56 331.90v3.60M244.92 552.90v-3.60M244.92 331.90v3.60M252.28 552.90v-3.60M252.28 331.90v3.60M259.64 552.90v-3.60M259.64 331.90v3.60M46.20 553.15h3.60M267.00 553.15h-3.60M46.20 540.87h3.60M267.00 540.87h-3.60M46.20 528.59h3.60M267.00 528.59h-3.60M46.20 504.04h3.60M267.00 504.04h-3.60M46.20 491.76h3.60M267.00 491.76h-3.60M46.20 479.48h3.60M267.00 479.48h-3.60M46.20 454.93h3.60M267.00 454.93h-3.60M46.20 442.65h3.60M267.00 442.65h-3.60M46.20 430.37h3.60M267.00 430.37h-3.60M46.20 405.82h3.60M267.00 405.82h-3.60M46.20 393.54h3.60M267.00 393.54h-3.60M46.20 381.26h3.60M267.00 381.26h-3.60M46.20 356.71h3.60M267.00 356.71h-3.60M46.20 344.43h3.60M267.00 344.43h-3.60M46.20 332.15h3.60M267.00 332.15h-3.60" stroke="#231f20" stroke-width="1.05" fill="none"/>
<path d="M46.20 552.90v-8.20M46.20 331.90v8.20M83.00 552.90v-8.20M83.00 331.90v8.20M119.80 552.90v-8.20M119.80 331.90v8.20M156.60 552.90v-8.20M156.60 331.90v8.20M193.40 552.90v-8.20M193.40 331.90v8.20M230.20 552.90v-8.20M230.20 331.90v8.20M267.00 552.90v-8.20M267.00 331.90v8.20M46.20 516.32h8.20M267.00 516.32h-8.20M46.20 467.21h8.20M267.00 467.21h-8.20M46.20 418.09h8.20M267.00 418.09h-8.20M46.20 368.98h8.20M267.00 368.98h-8.20" stroke="#231f20" stroke-width="1.80" fill="none"/>
<line x1="53.1" y1="468.2" x2="95.0" y2="463.4" stroke="#231f20" stroke-width="1.10" stroke-dasharray="5.4 1.6"/>
<line x1="95.0" y1="463.4" x2="247.6" y2="445.8" stroke="#231f20" stroke-width="1.10"/>
<g fill="#231f20"><circle cx="51.5" cy="432.7" r="1.50"/><circle cx="95.5" cy="440.7" r="1.50"/><circle cx="96.2" cy="460.5" r="1.50"/><circle cx="120.6" cy="451.8" r="1.50"/><circle cx="130.4" cy="447.3" r="1.50"/><circle cx="134.3" cy="449.2" r="1.50"/><circle cx="143.9" cy="439.6" r="1.50"/><circle cx="150.2" cy="454.2" r="1.50"/><circle cx="138.2" cy="470.3" r="1.50"/><circle cx="157.6" cy="456.0" r="1.50"/><circle cx="206.5" cy="346.4" r="1.50"/><circle cx="210.6" cy="358.4" r="1.50"/><circle cx="215.3" cy="357.2" r="1.50"/><circle cx="219.0" cy="366.5" r="1.50"/><circle cx="219.6" cy="373.1" r="1.50"/><circle cx="213.5" cy="385.6" r="1.50"/><circle cx="219.6" cy="383.7" r="1.50"/><circle cx="226.3" cy="342.0" r="1.50"/><circle cx="225.8" cy="369.0" r="1.50"/><circle cx="227.3" cy="371.0" r="1.50"/><circle cx="223.5" cy="376.0" r="1.50"/><circle cx="224.1" cy="380.7" r="1.50"/><circle cx="233.0" cy="388.7" r="1.50"/><circle cx="223.1" cy="392.2" r="1.50"/><circle cx="225.0" cy="391.3" r="1.50"/><circle cx="227.3" cy="393.1" r="1.50"/><circle cx="226.9" cy="396.6" r="1.50"/><circle cx="226.0" cy="404.6" r="1.50"/><circle cx="207.8" cy="416.0" r="1.50"/><circle cx="193.2" cy="419.1" r="1.50"/><circle cx="219.6" cy="418.5" r="1.50"/><circle cx="214.5" cy="425.2" r="1.50"/><circle cx="219.6" cy="426.1" r="1.50"/><circle cx="166.0" cy="429.3" r="1.50"/><circle cx="219.6" cy="429.3" r="1.50"/><circle cx="206.3" cy="433.1" r="1.50"/><circle cx="204.0" cy="436.7" r="1.50"/><circle cx="216.7" cy="436.3" r="1.50"/><circle cx="211.0" cy="438.2" r="1.50"/><circle cx="212.3" cy="439.5" r="1.50"/><circle cx="216.1" cy="442.6" r="1.50"/><circle cx="183.8" cy="445.6" r="1.50"/><circle cx="195.7" cy="446.8" r="1.50"/><circle cx="198.9" cy="447.7" r="1.50"/><circle cx="211.0" cy="446.8" r="1.50"/><circle cx="167.8" cy="448.9" r="1.50"/><circle cx="199.5" cy="449.6" r="1.50"/><circle cx="207.8" cy="449.4" r="1.50"/><circle cx="216.1" cy="447.1" r="1.50"/><circle cx="193.8" cy="451.9" r="1.50"/><circle cx="191.9" cy="454.1" r="1.50"/><circle cx="196.4" cy="454.1" r="1.50"/><circle cx="202.1" cy="454.1" r="1.50"/><circle cx="202.7" cy="457.3" r="1.50"/><circle cx="202.1" cy="461.1" r="1.50"/><circle cx="204.6" cy="463.0" r="1.50"/><circle cx="207.2" cy="456.0" r="1.50"/><circle cx="205.9" cy="459.2" r="1.50"/><circle cx="209.7" cy="463.6" r="1.50"/><circle cx="211.6" cy="453.4" r="1.50"/><circle cx="213.5" cy="455.3" r="1.50"/><circle cx="213.5" cy="461.1" r="1.50"/><circle cx="178.6" cy="464.2" r="1.50"/><circle cx="190.7" cy="464.6" r="1.50"/><circle cx="198.9" cy="464.2" r="1.50"/><circle cx="233.9" cy="410.2" r="1.50"/><circle cx="221.3" cy="412.8" r="1.50"/><circle cx="222.9" cy="413.8" r="1.50"/><circle cx="224.5" cy="416.9" r="1.50"/><circle cx="230.1" cy="418.1" r="1.50"/><circle cx="224.1" cy="423.2" r="1.50"/><circle cx="229.5" cy="428.4" r="1.50"/><circle cx="234.3" cy="427.8" r="1.50"/><circle cx="238.4" cy="428.4" r="1.50"/><circle cx="222.2" cy="431.8" r="1.50"/><circle cx="234.3" cy="432.2" r="1.50"/><circle cx="238.1" cy="434.0" r="1.50"/><circle cx="219.1" cy="436.0" r="1.50"/><circle cx="231.8" cy="435.7" r="1.50"/><circle cx="239.4" cy="450.3" r="1.50"/><circle cx="238.1" cy="456.6" r="1.50"/><circle cx="236.2" cy="458.1" r="1.50"/><circle cx="233.3" cy="461.7" r="1.50"/><circle cx="169.1" cy="466.3" r="1.50"/><circle cx="175.2" cy="473.1" r="1.50"/><circle cx="185.3" cy="469.4" r="1.50"/><circle cx="192.2" cy="466.9" r="1.50"/><circle cx="197.6" cy="467.8" r="1.50"/><circle cx="198.0" cy="471.0" r="1.50"/><circle cx="191.0" cy="474.1" r="1.50"/><circle cx="188.8" cy="476.9" r="1.50"/><circle cx="204.0" cy="475.2" r="1.50"/><circle cx="206.5" cy="474.1" r="1.50"/><circle cx="207.4" cy="476.3" r="1.50"/><circle cx="215.7" cy="477.7" r="1.50"/><circle cx="219.6" cy="476.0" r="1.50"/><circle cx="202.5" cy="486.8" r="1.50"/><circle cx="200.8" cy="489.4" r="1.50"/><circle cx="207.2" cy="495.7" r="1.50"/><circle cx="211.2" cy="493.8" r="1.50"/><circle cx="219.6" cy="492.6" r="1.50"/><circle cx="213.9" cy="505.9" r="1.50"/><circle cx="205.4" cy="513.5" r="1.50"/><circle cx="205.9" cy="465.9" r="1.50"/><circle cx="208.4" cy="466.5" r="1.50"/><circle cx="211.6" cy="467.2" r="1.50"/><circle cx="215.4" cy="470.3" r="1.50"/><circle cx="218.6" cy="472.2" r="1.50"/><circle cx="241.3" cy="465.9" r="1.50"/><circle cx="244.5" cy="469.4" r="1.50"/><circle cx="231.1" cy="469.7" r="1.50"/><circle cx="236.2" cy="471.0" r="1.50"/><circle cx="228.6" cy="465.2" r="1.50"/><circle cx="223.5" cy="467.2" r="1.50"/><circle cx="219.1" cy="469.1" r="1.50"/><circle cx="232.4" cy="479.0" r="1.50"/><circle cx="238.8" cy="480.9" r="1.50"/><circle cx="247.4" cy="484.6" r="1.50"/><circle cx="206.2" cy="529.6" r="1.50"/><circle cx="192.6" cy="533.5" r="1.50"/><circle cx="226.8" cy="445.4" r="1.50"/><circle cx="233.0" cy="444.1" r="1.50"/><circle cx="227.5" cy="445.8" r="1.50"/><circle cx="223.2" cy="444.8" r="1.50"/><circle cx="229.1" cy="448.7" r="1.50"/><circle cx="222.0" cy="441.8" r="1.50"/><circle cx="230.0" cy="438.2" r="1.50"/><circle cx="229.4" cy="446.2" r="1.50"/><circle cx="227.8" cy="438.4" r="1.50"/><circle cx="223.3" cy="441.0" r="1.50"/><circle cx="221.2" cy="444.1" r="1.50"/><circle cx="226.6" cy="449.4" r="1.50"/><circle cx="227.7" cy="446.6" r="1.50"/><circle cx="227.4" cy="446.9" r="1.50"/><circle cx="226.8" cy="441.5" r="1.50"/><circle cx="231.9" cy="447.5" r="1.50"/><circle cx="225.0" cy="440.8" r="1.50"/><circle cx="224.6" cy="438.6" r="1.50"/><circle cx="230.9" cy="443.2" r="1.50"/><circle cx="232.0" cy="443.0" r="1.50"/><circle cx="232.8" cy="444.2" r="1.50"/><circle cx="233.7" cy="443.2" r="1.50"/><circle cx="221.8" cy="446.4" r="1.50"/><circle cx="231.1" cy="441.4" r="1.50"/><circle cx="222.0" cy="442.3" r="1.50"/><circle cx="222.4" cy="441.0" r="1.50"/><circle cx="231.3" cy="440.1" r="1.50"/><circle cx="228.2" cy="443.9" r="1.50"/><circle cx="223.3" cy="447.8" r="1.50"/><circle cx="222.5" cy="446.6" r="1.50"/><circle cx="222.3" cy="443.5" r="1.50"/><circle cx="223.6" cy="441.4" r="1.50"/><circle cx="224.8" cy="450.0" r="1.50"/><circle cx="223.6" cy="443.1" r="1.50"/><circle cx="232.1" cy="446.6" r="1.50"/><circle cx="223.6" cy="441.2" r="1.50"/><circle cx="231.0" cy="442.2" r="1.50"/><circle cx="224.7" cy="438.6" r="1.50"/><circle cx="222.0" cy="445.8" r="1.50"/><circle cx="224.0" cy="446.0" r="1.50"/><circle cx="225.7" cy="443.9" r="1.50"/><circle cx="233.5" cy="444.4" r="1.50"/><circle cx="228.4" cy="449.7" r="1.50"/><circle cx="223.2" cy="439.8" r="1.50"/><circle cx="224.1" cy="440.3" r="1.50"/><circle cx="232.4" cy="446.0" r="1.50"/><circle cx="226.4" cy="439.1" r="1.50"/><circle cx="223.9" cy="447.5" r="1.50"/><circle cx="224.2" cy="449.1" r="1.50"/><circle cx="228.7" cy="441.7" r="1.50"/><circle cx="223.1" cy="447.7" r="1.50"/><circle cx="228.2" cy="449.5" r="1.50"/><circle cx="228.9" cy="441.5" r="1.50"/><circle cx="226.7" cy="438.4" r="1.50"/><circle cx="223.1" cy="442.8" r="1.50"/><circle cx="228.4" cy="439.4" r="1.50"/><circle cx="225.6" cy="450.1" r="1.50"/><circle cx="229.9" cy="445.8" r="1.50"/><circle cx="221.1" cy="446.5" r="1.50"/><circle cx="227.2" cy="447.8" r="1.50"/><circle cx="221.8" cy="445.2" r="1.50"/><circle cx="230.5" cy="450.2" r="1.50"/><circle cx="230.5" cy="447.5" r="1.50"/><circle cx="225.4" cy="447.2" r="1.50"/><circle cx="226.3" cy="448.7" r="1.50"/><circle cx="232.2" cy="445.6" r="1.50"/><circle cx="229.0" cy="443.0" r="1.50"/><circle cx="228.5" cy="446.1" r="1.50"/><circle cx="221.9" cy="446.6" r="1.50"/><circle cx="230.4" cy="443.0" r="1.50"/><circle cx="230.5" cy="445.7" r="1.50"/><circle cx="226.6" cy="449.3" r="1.50"/><circle cx="221.9" cy="448.1" r="1.50"/><circle cx="221.2" cy="446.0" r="1.50"/><circle cx="227.1" cy="440.8" r="1.50"/><circle cx="230.0" cy="444.6" r="1.50"/><circle cx="228.9" cy="450.5" r="1.50"/><circle cx="224.8" cy="447.1" r="1.50"/><circle cx="223.5" cy="440.0" r="1.50"/><circle cx="232.8" cy="446.8" r="1.50"/><circle cx="226.6" cy="450.1" r="1.50"/><circle cx="225.1" cy="446.9" r="1.50"/><circle cx="223.4" cy="443.6" r="1.50"/><circle cx="232.4" cy="443.0" r="1.50"/><circle cx="228.5" cy="442.0" r="1.50"/><circle cx="222.6" cy="444.6" r="1.50"/><circle cx="231.8" cy="449.5" r="1.50"/><circle cx="230.2" cy="450.9" r="1.50"/><circle cx="224.5" cy="440.0" r="1.50"/><circle cx="226.7" cy="441.5" r="1.50"/><circle cx="223.6" cy="443.4" r="1.50"/><circle cx="229.1" cy="444.5" r="1.50"/><circle cx="225.0" cy="449.3" r="1.50"/><circle cx="233.8" cy="443.9" r="1.50"/><circle cx="230.2" cy="445.6" r="1.50"/><circle cx="221.3" cy="461.0" r="1.50"/><circle cx="223.8" cy="449.4" r="1.50"/><circle cx="230.3" cy="452.6" r="1.50"/><circle cx="226.8" cy="455.8" r="1.50"/><circle cx="226.8" cy="459.0" r="1.50"/><circle cx="227.8" cy="452.0" r="1.50"/><circle cx="224.2" cy="451.7" r="1.50"/><circle cx="216.2" cy="456.2" r="1.50"/><circle cx="228.3" cy="451.7" r="1.50"/><circle cx="220.7" cy="454.3" r="1.50"/><circle cx="228.0" cy="456.9" r="1.50"/><circle cx="226.6" cy="460.5" r="1.50"/><circle cx="222.8" cy="461.0" r="1.50"/><circle cx="232.0" cy="460.0" r="1.50"/><circle cx="218.2" cy="455.9" r="1.50"/><circle cx="226.8" cy="462.8" r="1.50"/><circle cx="222.5" cy="457.6" r="1.50"/><circle cx="231.1" cy="461.1" r="1.50"/><circle cx="232.2" cy="456.0" r="1.50"/><circle cx="227.2" cy="452.1" r="1.50"/><circle cx="228.4" cy="461.4" r="1.50"/><circle cx="227.0" cy="459.9" r="1.50"/><circle cx="219.7" cy="462.7" r="1.50"/><circle cx="225.2" cy="461.0" r="1.50"/><circle cx="221.5" cy="462.8" r="1.50"/><circle cx="230.7" cy="454.3" r="1.50"/><circle cx="217.4" cy="455.7" r="1.50"/><circle cx="225.5" cy="460.7" r="1.50"/><circle cx="224.4" cy="449.4" r="1.50"/><circle cx="229.8" cy="451.6" r="1.50"/><circle cx="221.8" cy="461.0" r="1.50"/><circle cx="224.9" cy="460.0" r="1.50"/><circle cx="230.4" cy="459.5" r="1.50"/><circle cx="232.3" cy="456.5" r="1.50"/><circle cx="219.8" cy="457.0" r="1.50"/><circle cx="221.0" cy="460.1" r="1.50"/><circle cx="227.0" cy="456.9" r="1.50"/><circle cx="230.5" cy="457.5" r="1.50"/><circle cx="221.4" cy="454.8" r="1.50"/><circle cx="219.6" cy="461.9" r="1.50"/><circle cx="232.7" cy="457.0" r="1.50"/><circle cx="225.9" cy="452.1" r="1.50"/><circle cx="225.2" cy="456.6" r="1.50"/><circle cx="226.4" cy="449.4" r="1.50"/><circle cx="232.7" cy="456.8" r="1.50"/><circle cx="222.9" cy="461.2" r="1.50"/><circle cx="225.7" cy="456.5" r="1.50"/><circle cx="227.9" cy="450.0" r="1.50"/><circle cx="225.3" cy="455.3" r="1.50"/><circle cx="220.6" cy="456.2" r="1.50"/><circle cx="218.2" cy="455.6" r="1.50"/><circle cx="224.2" cy="453.8" r="1.50"/><circle cx="219.3" cy="458.4" r="1.50"/><circle cx="219.3" cy="452.5" r="1.50"/><circle cx="227.8" cy="453.9" r="1.50"/><circle cx="222.1" cy="458.4" r="1.50"/><circle cx="217.8" cy="460.1" r="1.50"/><circle cx="218.1" cy="456.8" r="1.50"/><circle cx="220.3" cy="452.0" r="1.50"/><circle cx="225.1" cy="455.6" r="1.50"/><circle cx="222.5" cy="455.3" r="1.50"/><circle cx="225.1" cy="451.4" r="1.50"/><circle cx="219.5" cy="458.6" r="1.50"/><circle cx="227.0" cy="457.1" r="1.50"/><circle cx="230.6" cy="458.3" r="1.50"/><circle cx="230.7" cy="452.5" r="1.50"/><circle cx="228.7" cy="461.3" r="1.50"/><circle cx="231.5" cy="453.8" r="1.50"/><circle cx="221.4" cy="463.0" r="1.50"/><circle cx="220.1" cy="460.0" r="1.50"/><circle cx="220.5" cy="450.5" r="1.50"/><circle cx="230.3" cy="455.4" r="1.50"/><circle cx="229.6" cy="450.9" r="1.50"/><circle cx="222.9" cy="459.4" r="1.50"/><circle cx="227.7" cy="462.9" r="1.50"/><circle cx="224.7" cy="460.5" r="1.50"/><circle cx="224.6" cy="459.4" r="1.50"/><circle cx="225.5" cy="456.8" r="1.50"/><circle cx="225.8" cy="451.2" r="1.50"/><circle cx="219.2" cy="452.1" r="1.50"/><circle cx="223.9" cy="460.6" r="1.50"/><circle cx="221.6" cy="456.1" r="1.50"/><circle cx="224.9" cy="455.5" r="1.50"/><circle cx="226.3" cy="449.2" r="1.50"/><circle cx="228.1" cy="461.8" r="1.50"/><circle cx="219.1" cy="455.9" r="1.50"/><circle cx="228.7" cy="455.2" r="1.50"/><circle cx="219.4" cy="451.5" r="1.50"/><circle cx="224.8" cy="449.2" r="1.50"/><circle cx="231.4" cy="461.2" r="1.50"/><circle cx="228.1" cy="462.1" r="1.50"/><circle cx="226.8" cy="455.1" r="1.50"/><circle cx="226.3" cy="456.7" r="1.50"/><circle cx="220.4" cy="462.9" r="1.50"/><circle cx="228.8" cy="460.8" r="1.50"/><circle cx="230.0" cy="455.2" r="1.50"/><circle cx="228.0" cy="460.7" r="1.50"/><circle cx="229.2" cy="455.2" r="1.50"/><circle cx="228.4" cy="450.1" r="1.50"/><circle cx="221.9" cy="456.1" r="1.50"/><circle cx="227.0" cy="458.5" r="1.50"/><circle cx="227.5" cy="454.1" r="1.50"/><circle cx="227.3" cy="457.7" r="1.50"/><circle cx="225.2" cy="454.9" r="1.50"/><circle cx="228.1" cy="460.6" r="1.50"/><circle cx="226.6" cy="460.2" r="1.50"/><circle cx="220.4" cy="455.1" r="1.50"/><circle cx="222.5" cy="450.5" r="1.50"/><circle cx="220.3" cy="462.8" r="1.50"/><circle cx="225.5" cy="456.7" r="1.50"/><circle cx="232.6" cy="457.6" r="1.50"/><circle cx="226.3" cy="460.5" r="1.50"/><circle cx="218.8" cy="456.2" r="1.50"/><circle cx="218.9" cy="456.5" r="1.50"/><circle cx="226.5" cy="449.9" r="1.50"/><circle cx="232.3" cy="455.4" r="1.50"/><circle cx="225.1" cy="458.1" r="1.50"/><circle cx="222.3" cy="453.3" r="1.50"/><circle cx="227.3" cy="457.5" r="1.50"/><circle cx="220.9" cy="459.9" r="1.50"/><circle cx="218.7" cy="460.5" r="1.50"/><circle cx="222.7" cy="462.6" r="1.50"/><circle cx="223.4" cy="456.3" r="1.50"/><circle cx="225.0" cy="463.2" r="1.50"/><circle cx="228.4" cy="456.1" r="1.50"/><circle cx="226.4" cy="450.7" r="1.50"/><circle cx="226.7" cy="455.9" r="1.50"/><circle cx="225.1" cy="450.9" r="1.50"/><circle cx="223.6" cy="459.2" r="1.50"/><circle cx="223.8" cy="453.0" r="1.50"/><circle cx="221.8" cy="466.4" r="1.50"/><circle cx="223.8" cy="467.2" r="1.50"/><circle cx="226.0" cy="470.2" r="1.50"/><circle cx="223.3" cy="465.2" r="1.50"/><circle cx="217.1" cy="469.7" r="1.50"/><circle cx="223.8" cy="467.9" r="1.50"/><circle cx="219.6" cy="465.4" r="1.50"/><circle cx="222.9" cy="467.5" r="1.50"/><circle cx="204.5" cy="457.5" r="1.50"/><circle cx="210.4" cy="464.6" r="1.50"/><circle cx="208.7" cy="468.1" r="1.50"/><circle cx="212.7" cy="456.3" r="1.50"/><circle cx="215.0" cy="461.8" r="1.50"/><circle cx="203.1" cy="463.0" r="1.50"/><circle cx="203.7" cy="455.4" r="1.50"/><circle cx="214.5" cy="463.1" r="1.50"/><circle cx="213.2" cy="463.0" r="1.50"/><circle cx="205.3" cy="456.6" r="1.50"/><circle cx="204.9" cy="464.0" r="1.50"/><circle cx="205.3" cy="465.2" r="1.50"/><circle cx="208.4" cy="454.1" r="1.50"/><circle cx="212.7" cy="464.0" r="1.50"/><circle cx="210.3" cy="455.7" r="1.50"/><circle cx="209.7" cy="464.9" r="1.50"/><circle cx="203.4" cy="462.9" r="1.50"/><circle cx="235.6" cy="451.1" r="1.50"/><circle cx="229.5" cy="464.2" r="1.50"/><circle cx="220.5" cy="446.9" r="1.50"/><circle cx="217.0" cy="464.5" r="1.50"/><circle cx="217.0" cy="455.8" r="1.50"/><circle cx="223.6" cy="460.0" r="1.50"/><circle cx="218.7" cy="465.8" r="1.50"/><circle cx="226.1" cy="447.4" r="1.50"/><circle cx="222.2" cy="454.3" r="1.50"/><circle cx="234.2" cy="462.3" r="1.50"/><circle cx="223.5" cy="456.5" r="1.50"/><circle cx="218.2" cy="454.3" r="1.50"/><circle cx="233.1" cy="456.0" r="1.50"/><circle cx="214.9" cy="462.1" r="1.50"/><circle cx="226.9" cy="457.0" r="1.50"/><circle cx="213.4" cy="466.1" r="1.50"/></g>
<rect x="46.20" y="331.90" width="220.80" height="221.00" fill="none" stroke="#231f20" stroke-width="1.90"/>
<g font-size="10.15" fill="#231f20"><text x="46.0" y="568.1" text-anchor="middle">-5.0</text><text x="82.8" y="568.1" text-anchor="middle">-4.0</text><text x="119.6" y="568.1" text-anchor="middle">-3.0</text><text x="156.4" y="568.1" text-anchor="middle">-2.0</text><text x="193.2" y="568.1" text-anchor="middle">-1.0</text><text x="230.0" y="568.1" text-anchor="middle">0.0</text><text x="266.8" y="568.1" text-anchor="middle">1.0</text><text x="39.2" y="519.9" text-anchor="end">1.2</text><text x="39.2" y="470.8" text-anchor="end">1.6</text><text x="39.2" y="421.7" text-anchor="end">2.0</text><text x="39.2" y="372.6" text-anchor="end">2.4</text></g>
<text x="156.6" y="585.5" text-anchor="middle" font-size="12.65" fill="#231f20">albedo change (%)</text>
<text transform="translate(15.4 442.4) rotate(-90)" text-anchor="middle" font-size="12.65" fill="#231f20">SAT change (C)</text>
<text x="81.84" y="311.3" font-size="12.60" fill="#231f20" textLength="84.85" lengthAdjust="spacing">1000&lt;=h&lt;2000</text>
<text x="84.76" y="325.2" font-size="12.60" fill="#231f20" textLength="146.09" lengthAdjust="spacing">r = 0.11, n = 366 m = 0.03</text>
</g>
<g>
<path d="M338.61 552.90v-3.60M338.61 331.90v3.60M349.13 552.90v-3.60M349.13 331.90v3.60M370.16 552.90v-3.60M370.16 331.90v3.60M380.67 552.90v-3.60M380.67 331.90v3.60M401.70 552.90v-3.60M401.70 331.90v3.60M412.21 552.90v-3.60M412.21 331.90v3.60M433.24 552.90v-3.60M433.24 331.90v3.60M443.76 552.90v-3.60M443.76 331.90v3.60M464.79 552.90v-3.60M464.79 331.90v3.60M475.30 552.90v-3.60M475.30 331.90v3.60M496.33 552.90v-3.60M496.33 331.90v3.60M506.84 552.90v-3.60M506.84 331.90v3.60M527.87 552.90v-3.60M527.87 331.90v3.60M538.39 552.90v-3.60M538.39 331.90v3.60M328.10 545.78h3.60M548.90 545.78h-3.60M328.10 538.42h3.60M548.90 538.42h-3.60M328.10 531.05h3.60M548.90 531.05h-3.60M328.10 523.68h3.60M548.90 523.68h-3.60M328.10 508.95h3.60M548.90 508.95h-3.60M328.10 501.58h3.60M548.90 501.58h-3.60M328.10 494.22h3.60M548.90 494.22h-3.60M328.10 486.85h3.60M548.90 486.85h-3.60M328.10 472.12h3.60M548.90 472.12h-3.60M328.10 464.75h3.60M548.90 464.75h-3.60M328.10 457.38h3.60M548.90 457.38h-3.60M328.10 450.02h3.60M548.90 450.02h-3.60M328.10 435.28h3.60M548.90 435.28h-3.60M328.10 427.92h3.60M548.90 427.92h-3.60M328.10 420.55h3.60M548.90 420.55h-3.60M328.10 413.18h3.60M548.90 413.18h-3.60M328.10 398.45h3.60M548.90 398.45h-3.60M328.10 391.08h3.60M548.90 391.08h-3.60M328.10 383.72h3.60M548.90 383.72h-3.60M328.10 376.35h3.60M548.90 376.35h-3.60M328.10 361.62h3.60M548.90 361.62h-3.60M328.10 354.25h3.60M548.90 354.25h-3.60M328.10 346.88h3.60M548.90 346.88h-3.60M328.10 339.52h3.60M548.90 339.52h-3.60" stroke="#231f20" stroke-width="1.05" fill="none"/>
<path d="M328.10 552.90v-8.20M328.10 331.90v8.20M359.64 552.90v-8.20M359.64 331.90v8.20M391.19 552.90v-8.20M391.19 331.90v8.20M422.73 552.90v-8.20M422.73 331.90v8.20M454.27 552.90v-8.20M454.27 331.90v8.20M485.81 552.90v-8.20M485.81 331.90v8.20M517.36 552.90v-8.20M517.36 331.90v8.20M548.90 552.90v-8.20M548.90 331.90v8.20M328.10 553.15h8.20M548.90 553.15h-8.20M328.10 516.32h8.20M548.90 516.32h-8.20M328.10 479.48h8.20M548.90 479.48h-8.20M328.10 442.65h8.20M548.90 442.65h-8.20M328.10 405.82h8.20M548.90 405.82h-8.20M328.10 368.98h8.20M548.90 368.98h-8.20M328.10 332.15h8.20M548.90 332.15h-8.20" stroke="#231f20" stroke-width="1.80" fill="none"/>
<line x1="344.4" y1="356.8" x2="502.0" y2="472.0" stroke="#231f20" stroke-width="1.10"/>
<line x1="502.0" y1="472.0" x2="523.8" y2="487.9" stroke="#231f20" stroke-width="1.10" stroke-dasharray="5 1"/>
<g fill="#231f20"><circle cx="344.8" cy="338.7" r="1.50"/><circle cx="398.0" cy="367.7" r="1.50"/><circle cx="398.4" cy="382.7" r="1.50"/><circle cx="403.0" cy="382.5" r="1.50"/><circle cx="416.7" cy="395.1" r="1.50"/><circle cx="425.2" cy="395.3" r="1.50"/><circle cx="434.3" cy="404.3" r="1.50"/><circle cx="400.4" cy="424.7" r="1.50"/><circle cx="436.3" cy="426.0" r="1.50"/><circle cx="434.1" cy="436.3" r="1.50"/><circle cx="481.0" cy="384.9" r="1.50"/><circle cx="484.2" cy="392.4" r="1.50"/><circle cx="486.0" cy="393.7" r="1.50"/><circle cx="486.2" cy="395.3" r="1.50"/><circle cx="465.9" cy="404.7" r="1.50"/><circle cx="480.0" cy="402.3" r="1.50"/><circle cx="483.3" cy="405.6" r="1.50"/><circle cx="479.1" cy="408.7" r="1.50"/><circle cx="486.1" cy="409.4" r="1.50"/><circle cx="483.8" cy="410.7" r="1.50"/><circle cx="481.7" cy="414.1" r="1.50"/><circle cx="486.1" cy="415.4" r="1.50"/><circle cx="462.2" cy="418.1" r="1.50"/><circle cx="485.5" cy="420.0" r="1.50"/><circle cx="469.0" cy="421.6" r="1.50"/><circle cx="484.6" cy="425.7" r="1.50"/><circle cx="463.0" cy="430.5" r="1.50"/><circle cx="479.0" cy="433.8" r="1.50"/><circle cx="476.8" cy="436.6" r="1.50"/><circle cx="480.9" cy="437.1" r="1.50"/><circle cx="468.3" cy="438.1" r="1.50"/><circle cx="490.3" cy="439.4" r="1.50"/><circle cx="483.8" cy="442.0" r="1.50"/><circle cx="481.9" cy="443.0" r="1.50"/><circle cx="468.2" cy="443.7" r="1.50"/><circle cx="428.2" cy="456.6" r="1.50"/><circle cx="432.4" cy="463.7" r="1.50"/><circle cx="433.2" cy="475.1" r="1.50"/><circle cx="439.3" cy="446.8" r="1.50"/><circle cx="439.3" cy="469.6" r="1.50"/><circle cx="475.1" cy="445.8" r="1.50"/><circle cx="478.3" cy="448.9" r="1.50"/><circle cx="484.3" cy="446.0" r="1.50"/><circle cx="483.7" cy="448.5" r="1.50"/><circle cx="483.0" cy="451.4" r="1.50"/><circle cx="482.0" cy="453.3" r="1.50"/><circle cx="493.8" cy="450.2" r="1.50"/><circle cx="494.2" cy="454.6" r="1.50"/><circle cx="497.1" cy="454.2" r="1.50"/><circle cx="467.1" cy="453.3" r="1.50"/><circle cx="459.4" cy="456.1" r="1.50"/><circle cx="480.1" cy="456.3" r="1.50"/><circle cx="483.9" cy="457.2" r="1.50"/><circle cx="479.0" cy="458.5" r="1.50"/><circle cx="469.3" cy="459.2" r="1.50"/><circle cx="473.4" cy="460.7" r="1.50"/><circle cx="483.0" cy="460.7" r="1.50"/><circle cx="480.1" cy="462.5" r="1.50"/><circle cx="455.7" cy="465.0" r="1.50"/><circle cx="473.1" cy="464.8" r="1.50"/><circle cx="473.1" cy="466.9" r="1.50"/><circle cx="473.5" cy="469.0" r="1.50"/><circle cx="476.5" cy="466.9" r="1.50"/><circle cx="484.5" cy="465.0" r="1.50"/><circle cx="484.5" cy="467.7" r="1.50"/><circle cx="484.3" cy="471.8" r="1.50"/><circle cx="498.5" cy="471.8" r="1.50"/><circle cx="469.9" cy="474.6" r="1.50"/><circle cx="475.4" cy="476.2" r="1.50"/><circle cx="487.6" cy="475.6" r="1.50"/><circle cx="478.2" cy="478.8" r="1.50"/><circle cx="480.1" cy="480.4" r="1.50"/><circle cx="479.2" cy="482.6" r="1.50"/><circle cx="479.2" cy="484.7" r="1.50"/><circle cx="485.8" cy="479.8" r="1.50"/><circle cx="487.1" cy="480.4" r="1.50"/><circle cx="493.7" cy="477.2" r="1.50"/><circle cx="492.9" cy="479.1" r="1.50"/><circle cx="451.0" cy="487.4" r="1.50"/><circle cx="474.9" cy="490.1" r="1.50"/><circle cx="483.0" cy="491.7" r="1.50"/><circle cx="467.9" cy="493.9" r="1.50"/><circle cx="495.2" cy="495.4" r="1.50"/><circle cx="495.5" cy="501.9" r="1.50"/><circle cx="485.4" cy="516.6" r="1.50"/><circle cx="496.6" cy="514.1" r="1.50"/><circle cx="495.3" cy="518.0" r="1.50"/><circle cx="497.5" cy="519.5" r="1.50"/><circle cx="492.2" cy="520.2" r="1.50"/><circle cx="499.0" cy="524.6" r="1.50"/><circle cx="524.3" cy="526.3" r="1.50"/></g>
<rect x="328.10" y="331.90" width="220.80" height="221.00" fill="none" stroke="#231f20" stroke-width="1.90"/>
<g font-size="10.15" fill="#231f20"><text x="328.1" y="568.1" text-anchor="middle">-15</text><text x="359.6" y="568.1" text-anchor="middle">-12</text><text x="391.2" y="568.1" text-anchor="middle">-9</text><text x="422.7" y="568.1" text-anchor="middle">-6</text><text x="454.3" y="568.1" text-anchor="middle">-3</text><text x="485.8" y="568.1" text-anchor="middle">0</text><text x="517.4" y="568.1" text-anchor="middle">3</text><text x="548.9" y="568.1" text-anchor="middle">6</text><text x="320.8" y="556.8" text-anchor="end">1.5</text><text x="320.8" y="519.9" text-anchor="end">2.0</text><text x="320.8" y="483.1" text-anchor="end">2.5</text><text x="320.8" y="446.2" text-anchor="end">3.0</text><text x="320.8" y="409.4" text-anchor="end">3.5</text><text x="320.8" y="372.6" text-anchor="end">4.0</text><text x="320.8" y="335.8" text-anchor="end">4.5</text></g>
<text x="438.9" y="585.5" text-anchor="middle" font-size="12.65" fill="#231f20">albedo change (%)</text>
<text transform="translate(296.8 442.4) rotate(-90)" text-anchor="middle" font-size="12.65" fill="#231f20">SAT change (C)</text>
<text x="364.44" y="307.7" font-size="12.60" fill="#231f20" textLength="84.55" lengthAdjust="spacing">1000&lt;=h&lt;2000</text>
<text x="367.26" y="325.2" font-size="12.60" fill="#231f20" textLength="145.75" lengthAdjust="spacing">r = -0.52, n = 101 m = -0.1</text>
</g>
<g>
<path d="M53.56 854.20v-3.60M53.56 633.00v3.60M60.92 854.20v-3.60M60.92 633.00v3.60M68.28 854.20v-3.60M68.28 633.00v3.60M75.64 854.20v-3.60M75.64 633.00v3.60M90.36 854.20v-3.60M90.36 633.00v3.60M97.72 854.20v-3.60M97.72 633.00v3.60M105.08 854.20v-3.60M105.08 633.00v3.60M112.44 854.20v-3.60M112.44 633.00v3.60M127.16 854.20v-3.60M127.16 633.00v3.60M134.52 854.20v-3.60M134.52 633.00v3.60M141.88 854.20v-3.60M141.88 633.00v3.60M149.24 854.20v-3.60M149.24 633.00v3.60M163.96 854.20v-3.60M163.96 633.00v3.60M171.32 854.20v-3.60M171.32 633.00v3.60M178.68 854.20v-3.60M178.68 633.00v3.60M186.04 854.20v-3.60M186.04 633.00v3.60M200.76 854.20v-3.60M200.76 633.00v3.60M208.12 854.20v-3.60M208.12 633.00v3.60M215.48 854.20v-3.60M215.48 633.00v3.60M222.84 854.20v-3.60M222.84 633.00v3.60M237.56 854.20v-3.60M237.56 633.00v3.60M244.92 854.20v-3.60M244.92 633.00v3.60M252.28 854.20v-3.60M252.28 633.00v3.60M259.64 854.20v-3.60M259.64 633.00v3.60M46.20 845.23h3.60M267.00 845.23h-3.60M46.20 836.02h3.60M267.00 836.02h-3.60M46.20 826.80h3.60M267.00 826.80h-3.60M46.20 808.37h3.60M267.00 808.37h-3.60M46.20 799.15h3.60M267.00 799.15h-3.60M46.20 789.93h3.60M267.00 789.93h-3.60M46.20 771.50h3.60M267.00 771.50h-3.60M46.20 762.28h3.60M267.00 762.28h-3.60M46.20 753.07h3.60M267.00 753.07h-3.60M46.20 734.63h3.60M267.00 734.63h-3.60M46.20 725.42h3.60M267.00 725.42h-3.60M46.20 716.20h3.60M267.00 716.20h-3.60M46.20 697.77h3.60M267.00 697.77h-3.60M46.20 688.55h3.60M267.00 688.55h-3.60M46.20 679.33h3.60M267.00 679.33h-3.60M46.20 660.90h3.60M267.00 660.90h-3.60M46.20 651.68h3.60M267.00 651.68h-3.60M46.20 642.47h3.60M267.00 642.47h-3.60" stroke="#231f20" stroke-width="1.05" fill="none"/>
<path d="M46.20 854.20v-8.20M46.20 633.00v8.20M83.00 854.20v-8.20M83.00 633.00v8.20M119.80 854.20v-8.20M119.80 633.00v8.20M156.60 854.20v-8.20M156.60 633.00v8.20M193.40 854.20v-8.20M193.40 633.00v8.20M230.20 854.20v-8.20M230.20 633.00v8.20M267.00 854.20v-8.20M267.00 633.00v8.20M46.20 854.45h8.20M267.00 854.45h-8.20M46.20 817.58h8.20M267.00 817.58h-8.20M46.20 780.72h8.20M267.00 780.72h-8.20M46.20 743.85h8.20M267.00 743.85h-8.20M46.20 706.98h8.20M267.00 706.98h-8.20M46.20 670.12h8.20M267.00 670.12h-8.20M46.20 633.25h8.20M267.00 633.25h-8.20" stroke="#231f20" stroke-width="1.80" fill="none"/>
<line x1="50.9" y1="794.4" x2="241.8" y2="783.3" stroke="#231f20" stroke-width="1.10"/>
<g fill="#231f20"><circle cx="119.9" cy="735.6" r="1.50"/><circle cx="226.2" cy="645.9" r="1.50"/><circle cx="227.3" cy="644.4" r="1.50"/><circle cx="224.7" cy="653.5" r="1.50"/><circle cx="222.7" cy="674.4" r="1.50"/><circle cx="189.0" cy="702.1" r="1.50"/><circle cx="225.8" cy="699.5" r="1.50"/><circle cx="227.5" cy="706.9" r="1.50"/><circle cx="224.9" cy="714.3" r="1.50"/><circle cx="220.1" cy="719.5" r="1.50"/><circle cx="216.4" cy="735.8" r="1.50"/><circle cx="234.9" cy="741.1" r="1.50"/><circle cx="50.9" cy="749.4" r="1.50"/><circle cx="69.6" cy="751.8" r="1.50"/><circle cx="69.6" cy="761.1" r="1.50"/><circle cx="66.1" cy="763.5" r="1.50"/><circle cx="56.8" cy="774.0" r="1.50"/><circle cx="103.2" cy="767.2" r="1.50"/><circle cx="133.4" cy="755.9" r="1.50"/><circle cx="158.5" cy="746.8" r="1.50"/><circle cx="125.4" cy="775.7" r="1.50"/><circle cx="88.3" cy="787.5" r="1.50"/><circle cx="67.4" cy="796.6" r="1.50"/><circle cx="91.4" cy="798.6" r="1.50"/><circle cx="103.4" cy="796.6" r="1.50"/><circle cx="115.3" cy="793.4" r="1.50"/><circle cx="150.6" cy="783.3" r="1.50"/><circle cx="139.7" cy="796.2" r="1.50"/><circle cx="143.7" cy="792.9" r="1.50"/><circle cx="149.3" cy="792.5" r="1.50"/><circle cx="141.5" cy="807.3" r="1.50"/><circle cx="156.7" cy="809.3" r="1.50"/><circle cx="147.6" cy="814.3" r="1.50"/><circle cx="145.6" cy="818.2" r="1.50"/><circle cx="153.2" cy="822.3" r="1.50"/><circle cx="222.3" cy="772.3" r="1.50"/><circle cx="211.9" cy="774.6" r="1.50"/><circle cx="208.5" cy="780.1" r="1.50"/><circle cx="223.6" cy="780.9" r="1.50"/><circle cx="195.7" cy="784.2" r="1.50"/><circle cx="198.8" cy="784.7" r="1.50"/><circle cx="200.5" cy="784.1" r="1.50"/><circle cx="220.8" cy="787.9" r="1.50"/><circle cx="178.5" cy="793.2" r="1.50"/><circle cx="196.3" cy="793.0" r="1.50"/><circle cx="221.6" cy="792.5" r="1.50"/><circle cx="211.4" cy="794.6" r="1.50"/><circle cx="215.7" cy="795.1" r="1.50"/><circle cx="224.6" cy="794.4" r="1.50"/><circle cx="219.3" cy="797.6" r="1.50"/><circle cx="193.6" cy="800.9" r="1.50"/><circle cx="201.5" cy="802.0" r="1.50"/><circle cx="216.4" cy="802.8" r="1.50"/><circle cx="233.8" cy="747.3" r="1.50"/><circle cx="234.0" cy="762.7" r="1.50"/><circle cx="232.3" cy="763.7" r="1.50"/><circle cx="230.8" cy="764.6" r="1.50"/><circle cx="241.6" cy="764.6" r="1.50"/><circle cx="233.2" cy="767.4" r="1.50"/><circle cx="229.9" cy="776.8" r="1.50"/><circle cx="227.2" cy="777.6" r="1.50"/><circle cx="226.2" cy="789.3" r="1.50"/><circle cx="227.5" cy="796.2" r="1.50"/><circle cx="198.8" cy="806.6" r="1.50"/><circle cx="197.8" cy="808.2" r="1.50"/><circle cx="196.9" cy="809.9" r="1.50"/><circle cx="196.7" cy="811.0" r="1.50"/><circle cx="201.4" cy="810.7" r="1.50"/><circle cx="203.7" cy="810.7" r="1.50"/><circle cx="207.2" cy="811.2" r="1.50"/><circle cx="167.1" cy="809.4" r="1.50"/><circle cx="170.5" cy="811.1" r="1.50"/><circle cx="171.9" cy="813.8" r="1.50"/><circle cx="169.5" cy="816.3" r="1.50"/><circle cx="174.8" cy="816.4" r="1.50"/><circle cx="182.1" cy="815.7" r="1.50"/><circle cx="185.5" cy="819.1" r="1.50"/><circle cx="188.2" cy="819.3" r="1.50"/><circle cx="175.6" cy="821.1" r="1.50"/><circle cx="171.4" cy="824.4" r="1.50"/><circle cx="179.6" cy="829.3" r="1.50"/><circle cx="183.1" cy="832.1" r="1.50"/><circle cx="200.7" cy="816.4" r="1.50"/><circle cx="199.2" cy="822.3" r="1.50"/><circle cx="202.6" cy="820.6" r="1.50"/><circle cx="204.0" cy="821.1" r="1.50"/><circle cx="210.5" cy="821.0" r="1.50"/><circle cx="199.5" cy="827.0" r="1.50"/><circle cx="202.8" cy="828.8" r="1.50"/><circle cx="218.5" cy="823.7" r="1.50"/><circle cx="216.5" cy="824.9" r="1.50"/><circle cx="220.6" cy="829.9" r="1.50"/><circle cx="209.4" cy="833.5" r="1.50"/><circle cx="215.0" cy="832.8" r="1.50"/><circle cx="217.4" cy="835.2" r="1.50"/><circle cx="220.9" cy="838.0" r="1.50"/><circle cx="206.8" cy="839.4" r="1.50"/><circle cx="233.8" cy="821.3" r="1.50"/></g>
<rect x="46.20" y="633.00" width="220.80" height="221.20" fill="none" stroke="#231f20" stroke-width="1.90"/>
<g font-size="10.15" fill="#231f20"><text x="46.0" y="869.4" text-anchor="middle">-5.0</text><text x="82.8" y="869.4" text-anchor="middle">-4.0</text><text x="119.6" y="869.4" text-anchor="middle">-3.0</text><text x="156.4" y="869.4" text-anchor="middle">-2.0</text><text x="193.2" y="869.4" text-anchor="middle">-1.0</text><text x="230.0" y="869.4" text-anchor="middle">0.0</text><text x="266.8" y="869.4" text-anchor="middle">1.0</text><text x="39.2" y="858.1" text-anchor="end">1.40</text><text x="39.2" y="821.2" text-anchor="end">1.60</text><text x="39.2" y="784.3" text-anchor="end">1.80</text><text x="39.2" y="747.5" text-anchor="end">2.00</text><text x="39.2" y="710.6" text-anchor="end">2.20</text><text x="39.2" y="673.7" text-anchor="end">2.40</text><text x="39.2" y="636.9" text-anchor="end">2.60</text></g>
<text x="156.6" y="886.3" text-anchor="middle" font-size="12.65" fill="#231f20">albedo change (%)</text>
<text transform="translate(9.9 743.6) rotate(-90)" text-anchor="middle" font-size="12.65" fill="#231f20">SAT change (C)</text>
<text x="82.87" y="609.9" font-size="12.60" fill="#231f20" textLength="85.03" lengthAdjust="spacing">2000&lt;=h&lt;3000</text>
<text x="85.96" y="626.2" font-size="12.60" fill="#231f20" textLength="144.95" lengthAdjust="spacing">r = 0.06, n = 100 m = 0.01</text>
</g>
<g>
<path d="M335.99 854.20v-3.60M335.99 633.00v3.60M343.87 854.20v-3.60M343.87 633.00v3.60M351.76 854.20v-3.60M351.76 633.00v3.60M367.53 854.20v-3.60M367.53 633.00v3.60M375.41 854.20v-3.60M375.41 633.00v3.60M383.30 854.20v-3.60M383.30 633.00v3.60M399.07 854.20v-3.60M399.07 633.00v3.60M406.96 854.20v-3.60M406.96 633.00v3.60M414.84 854.20v-3.60M414.84 633.00v3.60M430.61 854.20v-3.60M430.61 633.00v3.60M438.50 854.20v-3.60M438.50 633.00v3.60M446.39 854.20v-3.60M446.39 633.00v3.60M462.16 854.20v-3.60M462.16 633.00v3.60M470.04 854.20v-3.60M470.04 633.00v3.60M477.93 854.20v-3.60M477.93 633.00v3.60M493.70 854.20v-3.60M493.70 633.00v3.60M501.59 854.20v-3.60M501.59 633.00v3.60M509.47 854.20v-3.60M509.47 633.00v3.60M525.24 854.20v-3.60M525.24 633.00v3.60M533.13 854.20v-3.60M533.13 633.00v3.60M541.01 854.20v-3.60M541.01 633.00v3.60M328.10 845.60h3.60M548.90 845.60h-3.60M328.10 836.75h3.60M548.90 836.75h-3.60M328.10 827.91h3.60M548.90 827.91h-3.60M328.10 819.06h3.60M548.90 819.06h-3.60M328.10 801.36h3.60M548.90 801.36h-3.60M328.10 792.51h3.60M548.90 792.51h-3.60M328.10 783.67h3.60M548.90 783.67h-3.60M328.10 774.82h3.60M548.90 774.82h-3.60M328.10 757.12h3.60M548.90 757.12h-3.60M328.10 748.27h3.60M548.90 748.27h-3.60M328.10 739.43h3.60M548.90 739.43h-3.60M328.10 730.58h3.60M548.90 730.58h-3.60M328.10 712.88h3.60M548.90 712.88h-3.60M328.10 704.03h3.60M548.90 704.03h-3.60M328.10 695.19h3.60M548.90 695.19h-3.60M328.10 686.34h3.60M548.90 686.34h-3.60M328.10 668.64h3.60M548.90 668.64h-3.60M328.10 659.79h3.60M548.90 659.79h-3.60M328.10 650.95h3.60M548.90 650.95h-3.60M328.10 642.10h3.60M548.90 642.10h-3.60" stroke="#231f20" stroke-width="1.05" fill="none"/>
<path d="M328.10 854.20v-8.20M328.10 633.00v8.20M359.64 854.20v-8.20M359.64 633.00v8.20M391.19 854.20v-8.20M391.19 633.00v8.20M422.73 854.20v-8.20M422.73 633.00v8.20M454.27 854.20v-8.20M454.27 633.00v8.20M485.81 854.20v-8.20M485.81 633.00v8.20M517.36 854.20v-8.20M517.36 633.00v8.20M548.90 854.20v-8.20M548.90 633.00v8.20M328.10 854.45h8.20M548.90 854.45h-8.20M328.10 810.21h8.20M548.90 810.21h-8.20M328.10 765.97h8.20M548.90 765.97h-8.20M328.10 721.73h8.20M548.90 721.73h-8.20M328.10 677.49h8.20M548.90 677.49h-8.20M328.10 633.25h8.20M548.90 633.25h-8.20" stroke="#231f20" stroke-width="1.80" fill="none"/>
<line x1="328.7" y1="667.9" x2="388.0" y2="706.7" stroke="#231f20" stroke-width="1.10" stroke-dasharray="13 0.9"/>
<line x1="388.0" y1="706.7" x2="537.1" y2="804.2" stroke="#231f20" stroke-width="1.10"/>
<g fill="#231f20"><circle cx="328.7" cy="658.1" r="1.50"/><circle cx="354.4" cy="664.2" r="1.50"/><circle cx="397.3" cy="681.8" r="1.50"/><circle cx="392.3" cy="705.8" r="1.50"/><circle cx="424.3" cy="721.0" r="1.50"/><circle cx="476.1" cy="728.2" r="1.50"/><circle cx="444.5" cy="739.8" r="1.50"/><circle cx="405.6" cy="752.4" r="1.50"/><circle cx="430.2" cy="766.4" r="1.50"/><circle cx="440.4" cy="747.0" r="1.50"/><circle cx="472.4" cy="754.2" r="1.50"/><circle cx="501.1" cy="759.6" r="1.50"/><circle cx="456.3" cy="764.0" r="1.50"/><circle cx="480.7" cy="763.5" r="1.50"/><circle cx="467.8" cy="767.4" r="1.50"/><circle cx="493.3" cy="767.9" r="1.50"/><circle cx="537.1" cy="765.9" r="1.50"/><circle cx="471.7" cy="773.3" r="1.50"/><circle cx="475.2" cy="772.4" r="1.50"/><circle cx="477.8" cy="776.6" r="1.50"/><circle cx="473.2" cy="780.1" r="1.50"/><circle cx="503.5" cy="781.4" r="1.50"/><circle cx="537.1" cy="784.0" r="1.50"/><circle cx="488.3" cy="785.3" r="1.50"/><circle cx="479.3" cy="806.2" r="1.50"/><circle cx="527.7" cy="818.6" r="1.50"/></g>
<rect x="328.10" y="633.00" width="220.80" height="221.20" fill="none" stroke="#231f20" stroke-width="1.90"/>
<g font-size="10.15" fill="#231f20"><text x="328.1" y="869.4" text-anchor="middle">-20</text><text x="359.6" y="869.4" text-anchor="middle">-16</text><text x="391.2" y="869.4" text-anchor="middle">-12</text><text x="422.7" y="869.4" text-anchor="middle">-8</text><text x="454.3" y="869.4" text-anchor="middle">-4</text><text x="485.8" y="869.4" text-anchor="middle">0</text><text x="517.4" y="869.4" text-anchor="middle">4</text><text x="548.9" y="869.4" text-anchor="middle">8</text><text x="320.8" y="858.1" text-anchor="end">1.0</text><text x="320.8" y="813.8" text-anchor="end">2.0</text><text x="320.8" y="769.6" text-anchor="end">3.0</text><text x="320.8" y="725.3" text-anchor="end">4.0</text><text x="320.8" y="681.1" text-anchor="end">5.0</text><text x="320.8" y="636.9" text-anchor="end">6.0</text></g>
<text x="438.9" y="886.3" text-anchor="middle" font-size="12.65" fill="#231f20">albedo change (%)</text>
<text transform="translate(296.8 743.6) rotate(-90)" text-anchor="middle" font-size="12.65" fill="#231f20">SAT change (C)</text>
<text x="362.87" y="609.9" font-size="12.60" fill="#231f20" textLength="85.03" lengthAdjust="spacing">2000&lt;=h&lt;3000</text>
<text x="366.46" y="626.2" font-size="12.60" fill="#231f20" textLength="146.87" lengthAdjust="spacing">r = -0.85, n = 26 m = -0.12</text>
</g>
</svg>
</body>
</html>
